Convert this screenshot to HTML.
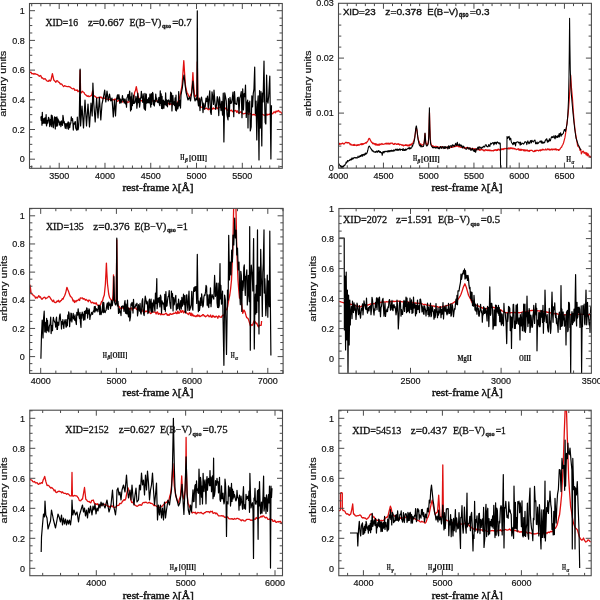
<!DOCTYPE html>
<html><head><meta charset="utf-8"><style>
html,body{margin:0;padding:0;background:#fff;}
svg{display:block;will-change:transform;}
text{fill:#111;stroke:#111;stroke-width:0.18px;}
.tl{font-family:"Liberation Sans",sans-serif;font-size:9px;}
.al{font-family:"Liberation Sans",sans-serif;font-size:8.9px;}
.xl{font-family:"Liberation Serif",serif;font-size:10.2px;stroke-width:0.4px;}
.an{font-family:"Liberation Serif",serif;font-size:10px;stroke-width:0.3px;}
.ans{font-family:"Liberation Sans",sans-serif;font-size:8.8px;stroke-width:0.35px;}
.sub{font-size:6.8px;font-weight:bold;}
.ll{font-family:"Liberation Serif",serif;font-size:7.6px;font-weight:bold;}
.lo{font-family:"Liberation Serif",serif;font-size:8.3px;font-weight:bold;}
.lg{font-family:"Liberation Serif",serif;font-size:5.5px;font-weight:bold;font-style:italic;}
.ls{font-size:5.5px;}
</style></head><body>
<svg width="600" height="600" viewBox="0 0 600 600">
<clipPath id="cp1"><rect x="29.5" y="3.5" width="252.8" height="164.8"/></clipPath>
<g clip-path="url(#cp1)" fill="none" stroke-linejoin="round">
<path d="M29.8 72.5 30.87 72.1 31.93 73.86 33 73.5 33.94 74.27 34.88 73.49 35.82 74.21 36.76 74.36 37.7 74.7 38.51 75.54 39.33 76.35 40.14 75.5 40.95 75.91 41.76 78.06 42.58 77.79 43.39 78.99 44.2 79 45.27 78.74 46.33 80.36 47.4 81.2 48.3 81.34 49.2 80.06 50.1 81.19 51 80 52.4 73.6 53.8 80 55 81.2 55.86 82.22 56.72 80.7 57.58 80.91 58.44 82.16 59.3 82.3 60.18 84.04 61.06 83.78 61.94 84.31 62.82 85.58 63.7 86.6 64.56 85.66 65.42 86.04 66.28 86.48 67.14 86.59 68 86.6 68.86 86.51 69.72 86.94 70.58 87.36 71.44 88.28 72.3 88.8 73.11 88.65 73.92 88.39 74.74 90.3 75.55 90.01 76.36 90.46 77.17 89.82 77.99 91.71 78.8 91 79.6 91 80.1 70.3 80.6 92 81.47 92.72 82.33 91.24 83.2 92 84 92.49 84.8 94.09 85.6 94.9 86.4 95.3 87.23 96.42 88.05 95.64 88.88 96.71 89.7 96.3 90.75 95.99 91.8 95 92.6 91 93.6 96 94.54 95.89 95.48 96.74 96.42 97.6 97.36 97.81 98.3 97.4 99.11 97.55 99.92 97.85 100.74 96.88 101.55 97.44 102.36 98.68 103.17 98.05 103.99 97.71 104.8 98.5 105.61 98.74 106.42 99.18 107.24 99.26 108.05 98.8 108.86 99.07 109.67 99.34 110.49 100.02 111.3 99.6 112.17 99.75 113.04 99.61 113.91 99.91 114.78 99.1 115.65 99.24 116.52 100.67 117.39 101.34 118.26 100.67 119.13 100.38 120 100.7 120.87 100.15 121.74 100.92 122.61 101.99 123.48 101.68 124.35 101.33 125.22 102.08 126.09 100.93 126.96 101.61 127.83 102.59 128.7 101.8 129.56 101.6 130.42 101 131.28 100.26 132.14 100.46 133 100 133.82 97.56 134.65 92.31 135.48 90.52 136.3 86.6 137.2 91.37 138.1 95.64 139 99 139.9 100.05 140.8 100.75 141.7 100.7 142.56 100.74 143.42 100.82 144.28 100.55 145.14 99.81 146 101.44 146.86 100.84 147.72 100.1 148.58 100.71 149.44 100.67 150.3 100.7 151.17 100.52 152.04 100.61 152.91 101.11 153.78 101.39 154.65 101.47 155.52 101.28 156.39 100.53 157.26 101.04 158.13 101.04 159 101.8 159.82 102.17 160.64 102.92 161.45 103 162.27 103.19 163.09 103.43 163.91 102.51 164.73 103.88 165.55 103.75 166.36 102.77 167.18 102.83 168 104 168.87 103.13 169.74 104.71 170.61 103.8 171.48 103.62 172.35 104.75 173.22 104.29 174.09 103.84 174.96 104.12 175.83 104.95 176.7 105 177.85 101.84 179 100 180.6 93 182 86 183 72 183.8 60.7 184.5 72 185.5 86 187 93 187.9 94.01 188.8 96.36 189.7 97.4 190.6 95.11 191.5 93 192.4 82 192.9 72.6 193.4 82 194.3 93 195 97 195.9 95.64 196.8 95 197.3 62 197.8 97 198.7 100.35 199.6 102.85 200.5 107.2 201.37 107.18 202.24 107.46 203.11 107.21 203.98 107.26 204.85 109.05 205.72 108.48 206.59 108.09 207.46 109.09 208.33 109.72 209.2 109.3 210.03 108.18 210.86 108.01 211.69 108.11 212.52 109.09 213.35 107.81 214.18 108.74 215.02 108.53 215.85 108.1 216.68 107.29 217.51 108.64 218.34 108.12 219.17 107.39 220 107.2 220.83 106.89 221.66 107.99 222.49 107.73 223.32 108.34 224.15 108.07 224.98 108.94 225.82 108.04 226.65 108.77 227.48 110.35 228.31 110.41 229.14 109.52 229.97 110.87 230.8 110.4 231.64 110.19 232.48 111.62 233.32 111.4 234.15 110.91 234.99 110.75 235.83 110.43 236.67 112.34 237.51 110.83 238.35 112.56 239.18 113.02 240.02 112.4 240.86 111.77 241.7 112.6 242.53 113.5 243.36 113.89 244.19 113.52 245.02 113.29 245.85 113.2 246.68 113.31 247.52 113.2 248.35 114.3 249.18 113.99 250.01 113.68 250.84 113.67 251.67 114.96 252.5 114.8 253.33 114.39 254.16 114.8 254.99 114.45 255.82 115.54 256.65 115.6 257.48 113.84 258.32 114.2 259.15 114.46 259.98 115.77 260.81 115.37 261.64 114.48 262.47 114.23 263.3 114.8 264.17 115.04 265.04 115.26 265.91 115.33 266.78 114.05 267.65 115.01 268.52 114.51 269.39 114 270.26 114.89 271.13 113.28 272 113.7 272.81 113.74 273.62 112.04 274.44 111.8 275.25 112.87 276.06 111.06 276.88 111.74 277.69 111.01 278.5 110.4 279.38 111.91 280.25 111.79 281.12 112.56 282 113.7" stroke="#e01010" stroke-width="1.3"/>
<path d="M40.9 116.45 41.25 120.5 41.6 116.43 41.96 125.27 42.32 112.33 42.68 123.4 43.05 121.53 43.42 122.95 43.8 118.61 44.18 123.35 44.56 117.99 44.94 122.36 45.33 117.96 45.73 123.57 46.12 114.7 46.52 125.99 46.92 123.87 47.32 120.28 47.72 123.22 48.12 120.65 48.52 117.34 48.92 118.19 49.32 120.66 49.72 126.56 50.12 124.02 50.52 119.27 50.92 124.98 51.32 115.1 51.72 126.64 52.12 115.7 52.52 118.02 52.92 121.88 53.32 127.69 53.72 122.46 54.12 121.96 54.52 116.78 54.92 123.82 55.32 128.86 55.72 117.25 56.12 124.1 56.52 126.18 56.92 116.87 57.32 126.01 57.72 118.87 58.12 119.22 58.52 122.19 58.92 120.85 59.32 125.22 59.72 123.67 60.12 121.9 60.52 123.61 60.92 126.55 61.32 120.93 61.72 123.93 62.12 124.82 62.52 125.33 62.92 115.44 63.32 117.66 63.72 122.99 64.12 121.35 64.52 123.29 64.92 126.58 65.32 128.4 65.72 123.63 66.12 124.56 66.52 123.86 66.92 128.72 67.32 123.33 67.72 123.85 68.12 121.94 68.52 129.22 68.92 122.34 69.32 123.7 69.72 127.61 70.12 124.74 70.52 124.04 70.92 121.9 71.32 116.9 71.72 120.39 72.12 120.16 72.52 118.61 72.92 122.84 73.32 130.05 73.72 123.37 74.12 124.36 74.52 123.89 74.92 121.97 75.32 121.64 75.72 128.17 76.12 128.49 76.52 130.2 76.92 130.19 77.32 117.1 77.72 129.14 78.12 129.68 78.52 127.44 78.92 121.7 79.32 115.8 80.1 69 80.6 126 82 106 83.5 128 85 100 86.5 126 88 104 89.5 127 91 103 92.2 116 92.9 83 93.8 104 95.2 122 96.6 98 98 118 99.4 97 100.8 120 102 104 103.5 97 104.7 90 105.8 102 107 91 108.3 101 109.5 94 110.8 101 112 98 113.3 117 114.5 100 115.5 116 116.5 99 117.3 96 117.5 94.84 117.95 99.48 118.4 98.58 118.85 94.7 119.3 97.47 119.75 103.16 120.2 99.09 120.65 99.11 121.1 102.84 121.55 100.88 122 99.78 122.45 95.64 122.9 99.32 123.35 101.23 123.8 98.87 124.25 103.06 124.7 102.29 125.15 98.97 125.6 103.98 126.05 102.44 126.5 107.15 126.95 97.75 127.4 97.11 127.85 94.62 128.3 94.56 128.75 100.73 129.2 94.91 129.65 91 130.1 98.45 130.55 110.99 131 96.88 131.45 109.58 131.9 92.89 132.35 105.77 132.8 101.95 133.25 103.45 133.7 95 134.15 103.42 134.6 102.89 135.05 102.75 135.5 100.37 135.95 96.39 136.4 98.83 136.85 108.1 137.3 103.95 137.75 93.06 138.2 98.98 138.65 102.7 139.1 98.48 139.55 107.07 140 103.55 140.45 97.93 140.9 97.98 141.35 91.3 141.8 97.7 142.25 97.1 142.7 102.29 143.15 93.86 143.6 99.12 144.05 108.1 144.5 109.15 144.95 93.28 145.4 110.15 145.85 102.91 146.3 94.14 146.75 103.09 147.2 99.49 147.65 101.65 148.1 102.84 148.55 97.73 149 102.17 149.45 102.81 149.9 94.06 150.35 103.93 150.8 107.08 151.25 93.49 151.7 104.32 152.15 98.32 152.6 92.36 153.05 93.95 153.5 104.8 153.95 100.67 154.4 105.88 154.85 99.99 155.3 101.8 155.75 93.99 156.2 99.35 156.65 98.02 157.1 101.86 157.55 102.13 158 102.5 158.45 100.73 158.9 97.25 159.35 104.07 159.8 105.64 160.25 90.88 160.7 103.4 161.15 93.82 161.6 108.45 162.05 96.37 162.5 108.64 162.95 105.45 163.4 100.09 163.85 108.28 164.3 103.57 164.75 101.15 165.2 104.42 165.65 92.95 166.1 105.59 166.55 99.77 167 100.81 167.45 106.81 167.9 100.83 168.35 99.94 168.8 100.18 169.25 102.2 169.7 104.41 170.15 103.23 170.6 92.16 171.05 101.66 171.5 93.12 171.95 111 172.4 102.95 172.85 95.23 173.3 102.01 173.75 104.73 174.2 101.9 174.65 105.65 175.1 97.94 175.55 110.26 176 95.19 176.45 111 176.9 105.33 177.35 102.78 177.8 108.84 178.25 106.36 178.7 91.56 179.15 105.95 179.6 103.97 180.05 100.37 180.5 108.05 181 95 182.3 88 183.3 79 184 75 184.8 82 186 92 188 100 189.5 97 190.5 101 191.8 92 192.9 81 194 96 195 101 196.2 98 196.9 100 197.3 10.8 197.7 100 198.5 106 199.3 98 200 110.58 200.75 99.7 201.5 97.14 202.25 101.82 203 112.57 203.75 103.2 204.5 109.13 205.25 106.36 206 98.14 206.75 101.63 207.5 96.12 208.25 108.41 209 98.51 209.75 90.87 210.5 111.91 211.25 114.48 212 91.85 212.75 97.04 213.5 104.42 214 90 215 103.04 215.75 109.4 216.5 104.97 217.25 96.65 218 99.7 218.75 115.56 219.5 96.95 220.25 103.62 221 110.55 221.75 101.39 222.5 115.03 223.25 93.15 223.9 142 224.75 92.81 225.5 96.62 226.25 101.12 227 115 228 120 228.5 98.7 229.25 116.55 230 97.29 230.75 103.34 231.5 103.02 232.25 98.56 233 92 233.75 116.66 234.5 91.54 235.25 103.44 236 104.15 236.75 104.41 237.5 97.68 238.25 97.2 239 113.57 239.75 97.87 240.5 96.18 241.25 91.51 241.98 117.75 242.71 88.95 243.44 109.93 244.15 93.6 244.86 96.74 245.5 85 246.26 117.52 246.96 102.77 247.66 100.2 248 128 248.36 102.59 249.06 112.12 249.76 101.09 250.3 131 251.16 126.88 251.86 95.84 252.56 106.79 253.26 93.71 253.96 89.19 254.7 67 255.36 113.54 256.06 100.98 256.8 140 257.46 107.32 258.16 95.76 259 160 259.56 90.5 260.26 128.07 260.96 91.62 261.8 146 262.36 93.11 263.06 101.93 264 61 264.46 94.35 265.16 122.4 265.86 124.06 266.6 75 267.26 100.3 267.96 103.14 268.66 96.55 269.36 83.55 269.8 76 270.9 159 271.46 105.36" stroke="#000" stroke-width="1.2"/>
</g>
<path d="M31.73 168.3v-2.8M31.73 3.5v2.8M40.89 168.3v-2.8M40.89 3.5v2.8M50.05 168.3v-2.8M50.05 3.5v2.8M59.2 168.3v-5.5M59.2 3.5v5.5M68.36 168.3v-2.8M68.36 3.5v2.8M77.51 168.3v-2.8M77.51 3.5v2.8M86.67 168.3v-2.8M86.67 3.5v2.8M95.82 168.3v-2.8M95.82 3.5v2.8M104.98 168.3v-5.5M104.98 3.5v5.5M114.13 168.3v-2.8M114.13 3.5v2.8M123.29 168.3v-2.8M123.29 3.5v2.8M132.44 168.3v-2.8M132.44 3.5v2.8M141.6 168.3v-2.8M141.6 3.5v2.8M150.75 168.3v-5.5M150.75 3.5v5.5M159.91 168.3v-2.8M159.91 3.5v2.8M169.06 168.3v-2.8M169.06 3.5v2.8M178.22 168.3v-2.8M178.22 3.5v2.8M187.37 168.3v-2.8M187.37 3.5v2.8M196.53 168.3v-5.5M196.53 3.5v5.5M205.68 168.3v-2.8M205.68 3.5v2.8M214.84 168.3v-2.8M214.84 3.5v2.8M223.99 168.3v-2.8M223.99 3.5v2.8M233.15 168.3v-2.8M233.15 3.5v2.8M242.3 168.3v-5.5M242.3 3.5v5.5M251.46 168.3v-2.8M251.46 3.5v2.8M260.61 168.3v-2.8M260.61 3.5v2.8M269.77 168.3v-2.8M269.77 3.5v2.8M278.92 168.3v-2.8M278.92 3.5v2.8M29.5 166.62h2.8M282.3 166.62h-2.8M29.5 159.2h5.5M282.3 159.2h-5.5M29.5 151.77h2.8M282.3 151.77h-2.8M29.5 144.35h2.8M282.3 144.35h-2.8M29.5 136.92h2.8M282.3 136.92h-2.8M29.5 129.5h5.5M282.3 129.5h-5.5M29.5 122.07h2.8M282.3 122.07h-2.8M29.5 114.65h2.8M282.3 114.65h-2.8M29.5 107.22h2.8M282.3 107.22h-2.8M29.5 99.8h5.5M282.3 99.8h-5.5M29.5 92.37h2.8M282.3 92.37h-2.8M29.5 84.95h2.8M282.3 84.95h-2.8M29.5 77.52h2.8M282.3 77.52h-2.8M29.5 70.1h5.5M282.3 70.1h-5.5M29.5 62.67h2.8M282.3 62.67h-2.8M29.5 55.25h2.8M282.3 55.25h-2.8M29.5 47.82h2.8M282.3 47.82h-2.8M29.5 40.4h5.5M282.3 40.4h-5.5M29.5 32.97h2.8M282.3 32.97h-2.8M29.5 25.55h2.8M282.3 25.55h-2.8M29.5 18.12h2.8M282.3 18.12h-2.8M29.5 10.7h5.5M282.3 10.7h-5.5" stroke="#4a4a4a" stroke-width="1" fill="none"/>
<rect x="29.5" y="3.5" width="252.8" height="164.8" stroke="#4a4a4a" stroke-width="1.1" fill="none"/>
<text x="59.2" y="178.9" class="tl" text-anchor="middle">3500</text>
<text x="104.98" y="178.9" class="tl" text-anchor="middle">4000</text>
<text x="150.75" y="178.9" class="tl" text-anchor="middle">4500</text>
<text x="196.53" y="178.9" class="tl" text-anchor="middle">5000</text>
<text x="242.3" y="178.9" class="tl" text-anchor="middle">5500</text>
<text x="24.7" y="162.4" class="tl" text-anchor="end">0</text>
<text x="24.7" y="132.7" class="tl" text-anchor="end">0.2</text>
<text x="24.7" y="103" class="tl" text-anchor="end">0.4</text>
<text x="24.7" y="73.3" class="tl" text-anchor="end">0.6</text>
<text x="24.7" y="43.6" class="tl" text-anchor="end">0.8</text>
<text x="24.7" y="13.9" class="tl" text-anchor="end">1</text>
<text x="122.5" y="191.2" class="xl" textLength="71" lengthAdjust="spacingAndGlyphs">rest-frame &#955;[&#197;]</text>
<text transform="translate(6.3 116.7) rotate(-90)" class="al" textLength="66" lengthAdjust="spacingAndGlyphs">arbitrary units</text>
<text x="45.6" y="26.2" class="an" textLength="32.4" lengthAdjust="spacingAndGlyphs">XID=16</text>
<text x="87.9" y="26.2" class="an" textLength="36.3" lengthAdjust="spacingAndGlyphs">z=0.667</text>
<text x="129.5" y="26.2" class="an" textLength="31.8" lengthAdjust="spacingAndGlyphs">E(B&#8722;V)</text>
<text x="162" y="28.4" class="sub an" textLength="9" lengthAdjust="spacingAndGlyphs">qso</text>
<text x="172.2" y="26.2" class="an" textLength="19.5" lengthAdjust="spacingAndGlyphs">=0.7</text>
<text x="180.2" y="160.4" class="ll" textLength="4.2" lengthAdjust="spacingAndGlyphs">H</text>
<text x="184.9" y="162.2" class="lg" textLength="2.8" lengthAdjust="spacingAndGlyphs">&#946;</text>
<text x="189" y="160.7" class="lo" textLength="18" lengthAdjust="spacingAndGlyphs">[OIII]</text>
<clipPath id="cp2"><rect x="338.5" y="3.3" width="252.9" height="164.8"/></clipPath>
<g clip-path="url(#cp2)" fill="none" stroke-linejoin="round">
<path d="M338.6 144.61 338.95 144.57 339.3 143.29 339.65 143.3 340 144.31 340.35 144.14 340.7 144.02 341.05 143.48 341.4 143.86 341.75 143.83 342.1 143.76 342.45 143.14 342.8 143.48 343.15 143.4 343.5 143.83 343.85 144.17 344.2 144.04 344.55 143.37 344.9 143.13 345.25 142.78 345.6 142.36 345.95 142.24 346.3 142.76 346.65 142.45 347 142.44 347.35 143.05 347.7 142.61 348.05 142.86 348.4 142.6 348.75 142.5 349.1 143.12 349.45 143.06 349.8 143.78 350.15 144.66 350.5 144.41 350.85 143.91 351.2 145.02 351.55 144.94 351.9 144.89 352.25 145.18 352.6 145.03 352.95 145.11 353.3 144.55 353.65 145.47 354 145.49 354.35 144.42 354.7 145.29 355.05 145.29 355.4 144.98 355.75 145.12 356.1 145.08 356.45 145.63 356.8 144.99 357.15 145.39 357.5 144.67 357.85 145.36 358.2 145.32 358.55 144.65 358.9 144.75 359.25 145.18 359.6 144.85 359.95 144.45 360.3 144.02 360.65 144.1 361 144.56 361.35 143.74 361.7 144.7 362.05 143.73 362.4 144.54 362.75 143.61 363.1 144.43 363.45 143.98 363.8 143.59 364.15 143.51 364.5 143.6 364.85 143.4 365.2 142.89 365.55 142.6 365.9 142.85 366.25 143.22 366.6 142.53 366.95 141.88 367.3 141.8 367.65 141.26 368 140.7 368.35 139.66 368.7 139.15 369.05 138.33 369.3 138.4 369.75 138.73 370.1 139.42 370.45 140.48 370.8 140.87 371.15 141.65 371.5 142.3 371.85 142.2 372.2 142.48 372.55 143.69 372.9 143.27 373.25 143.87 373.6 143.08 373.95 143.69 374.3 143.55 374.65 144.37 375 143.66 375.35 144.98 375.7 143.78 376.05 144.85 376.4 143.95 376.75 144.36 377.1 145.22 377.45 144.38 377.8 144.5 378.15 145.22 378.5 144.72 378.85 144.17 379.2 145.43 379.55 144.18 379.9 143.94 380.25 144.3 380.6 144.6 380.95 144.71 381.3 143.75 381.65 143.99 382 143.48 382.35 143.99 382.7 144.35 383.05 144.24 383.4 144.38 383.75 144.1 384.1 144.19 384.45 143.97 384.8 143.65 385.15 143.31 385.5 143.92 385.85 143.43 386.2 143.14 386.55 143.62 386.9 144.22 387.25 143.17 387.6 143.81 387.95 143.54 388.3 143.71 388.65 143.2 389 144.34 389.35 143.36 389.7 143.84 390.05 143.58 390.4 143.03 390.75 143.8 391.1 143.22 391.45 143.11 391.8 143.09 392.15 143.28 392.5 143.2 392.85 143.96 393.2 143.8 393.55 144.47 393.9 144.41 394.25 144.51 394.6 143.45 394.95 143.75 395.3 143.49 395.65 143.98 396 144.03 396.35 144.36 396.7 144.32 397.05 143.78 397.4 144.1 397.75 144.33 398.1 143.68 398.45 143.81 398.8 144.42 399.15 144.09 399.5 145.03 399.85 144.44 400.2 144.32 400.55 144.52 400.9 144.67 401.25 144.69 401.6 145.15 401.95 145.09 402.3 144.9 402.65 145.39 403 144.81 403.35 145.8 403.7 145.9 404.05 145.59 404.4 145.2 404.75 145.32 405.1 145.44 405.45 144.71 405.8 145.23 406.15 145.39 406.5 144.91 406.85 144.79 407.2 145.77 407.55 145.16 407.9 145.36 408.25 145.9 408.6 145.44 408.95 144.95 409.3 145.88 409.65 144.96 410 144.38 410.35 145.21 410.7 144.26 411.05 144.39 411.4 144.95 411.75 144.48 412.1 143.28 412.45 143.53 412.8 143.02 413.15 142.55 413.5 141.42 413.85 140.9 414.2 139.44 414.55 137.92 414.9 135.92 415.25 133.72 415.6 130.78 415.95 128.96 416.3 128.02 416.65 128.9 417 130.95 417.35 133.58 417.7 136.16 418.05 138.07 418.4 139.58 418.75 140.85 419.1 141.39 419.45 143.22 419.8 143.52 420.15 144.42 420.5 144.41 420.85 143.76 421.2 144.86 421.55 145.19 421.9 145.22 422.25 144.96 422.6 144.89 422.95 144.82 423.3 144.71 423.65 143.96 424 143.01 424.35 140.72 424.7 136.53 425 133.49 425.4 137.99 425.75 141.73 426.1 143.32 426.45 144.13 426.8 144.58 427.15 144.53 427.5 144.38 427.85 143.92 428.2 142.85 428.55 140.2 428.9 134.35 429.25 120.36 429.5 112.54 429.95 129.8 430.3 138.3 430.65 142.1 431 143.69 431.35 144.63 431.7 145.53 432.05 146.42 432.4 146.21 432.75 145.67 433.1 146.05 433.45 146.07 433.8 146.78 434.15 146.87 434.5 146.6 434.85 146.78 435.2 146.25 435.55 146.9 435.9 147.52 436.25 147.28 436.6 146.4 436.95 147.02 437.3 147.33 437.65 146.72 438 147.64 438.35 147.06 438.7 147.43 439.05 147.03 439.4 147.89 439.75 147.61 440.1 147.34 440.45 146.75 440.8 147.17 441.15 146.6 441.5 147.39 441.85 147.8 442.2 146.82 442.55 147.29 442.9 147.26 443.25 147.15 443.6 147.58 443.95 147.9 444.3 147.58 444.65 147.26 445 147.95 445.35 147.07 445.7 147.65 446.05 147.53 446.4 147.68 446.75 147.81 447.1 146.93 447.45 147.49 447.8 147.19 448.15 147.56 448.5 147.99 448.85 147.49 449.2 146.56 449.55 147.13 449.9 147.42 450.25 147.6 450.6 147.22 450.95 147.39 451.3 146.21 451.65 147.45 452 147.09 452.35 146.86 452.7 147.21 453.05 147.13 453.4 145.97 453.75 146.91 454.1 146.78 454.45 145.93 454.8 146.63 455.15 146.35 455.5 145.74 455.85 146.53 456.2 145.54 456.55 146.14 456.9 145.83 457.25 145.52 457.6 146.05 457.95 146.02 458.3 145.77 458.65 146.94 459 145.81 459.35 145.82 459.7 146.61 460.05 147.21 460.4 147.07 460.75 147.32 461.1 147.06 461.45 147.43 461.8 147.07 462.15 147.06 462.5 147.44 462.85 146.82 463.2 146.95 463.55 147.94 463.9 147.18 464.25 148.03 464.6 148.13 464.95 147.65 465.3 148.07 465.65 148.28 466 148.44 466.35 147.47 466.7 147.55 467.05 147.91 467.4 148.07 467.75 147.89 468.1 147.54 468.45 148.35 468.8 148.97 469.15 148.18 469.5 148.47 469.85 148.3 470.2 148.44 470.55 149.08 470.9 148.34 471.25 148.87 471.6 148.69 471.95 148.81 472.3 149.39 472.65 148.26 473 149.36 473.35 148.67 473.7 149.19 474.05 149.44 474.4 149.29 474.75 148.96 475.1 149.63 475.45 148.63 475.8 149.43 476.15 149.13 476.5 149.37 476.85 149.86 477.2 149.82 477.55 149.63 477.9 149.22 478.25 149.16 478.6 149.51 478.95 149.24 479.3 149.35 479.65 150.34 480 149.2 480.35 150.23 480.7 149.66 481.05 149.68 481.4 149.66 481.75 149.36 482.1 149.93 482.45 149.57 482.8 150 483.15 149.83 483.5 150.71 483.85 150.78 484.2 150.1 484.55 150.38 484.9 150.79 485.25 149.94 485.6 149.63 485.95 149.82 486.3 149.75 486.65 150.44 487 150.01 487.35 149.99 487.7 150.6 488.05 149.81 488.4 150.62 488.75 150.37 489.1 150.05 489.45 150.64 489.8 149.97 490.15 150.72 490.5 150.78 490.85 150.19 491.2 150.45 491.55 150.82 491.9 150.53 492.25 150.54 492.6 150.71 492.95 150.8 493.3 150.54 493.65 150.86 494 149.9 494.35 150.36 494.7 150.4 495.05 149.94 495.4 149.93 495.75 149.58 496.1 150.64 496.45 149.75 496.8 149.88 497.15 150.42 497.5 149.39 497.85 150.43 498.2 149.22 498.55 149.04 498.9 149.45 499.25 149.42 499.6 150.16 499.95 150.07 500.3 149.86 500.65 149.36 501 149.47 501.35 149 501.7 149.79 502.05 149.13 502.4 148.94 502.75 149.39 503.1 148.67 503.45 148.86 503.8 149.67 504.15 148.46 504.5 148.49 504.85 148.53 505.2 148.55 505.55 148.75 505.9 148.47 506.25 148.55 506.6 148.38 506.95 148.32 507.3 148.8 507.65 148.37 508 148.38 508.35 148.89 508.7 147.86 509.05 147.93 509.4 148.88 509.75 148.25 510.1 148.69 510.45 147.74 510.8 148.25 511.15 148.66 511.5 147.9 511.85 148.48 512.2 148.32 512.55 148.09 512.9 149 513.25 148.22 513.6 148.4 513.95 148.67 514.3 148.32 514.65 149.11 515 148.85 515.35 148.9 515.7 148.9 516.05 149.59 516.4 149.66 516.75 149.52 517.1 149.05 517.45 149.06 517.8 149.28 518.15 148.68 518.5 148.84 518.85 150.15 519.2 149 519.55 150.2 519.9 149.91 520.25 150.3 520.6 149.2 520.95 149.58 521.3 150.34 521.65 149.3 522 149.51 522.35 149.92 522.7 149.74 523.05 149.73 523.4 150.49 523.75 149.71 524.1 150.97 524.45 150.55 524.8 149.74 525.15 150.96 525.5 150.07 525.85 150.43 526.2 150.57 526.55 150.01 526.9 150.55 527.25 149.96 527.6 150.18 527.95 151.22 528.3 151.11 528.65 150.72 529 150.97 529.35 151.27 529.7 150.27 530.05 150.8 530.4 150.32 530.75 150.33 531.1 150.35 531.45 150.52 531.8 150.33 532.15 150.58 532.5 150.84 532.85 151.21 533.2 151.57 533.55 151.65 533.9 151.34 534.25 151 534.6 151.53 534.95 150.42 535.3 150.29 535.65 151.24 536 150.93 536.35 150.29 536.7 150.48 537.05 150.32 537.4 150.46 537.75 150.4 538.1 150.31 538.45 150.82 538.8 150.8 539.15 150.4 539.5 150.22 539.85 149.91 540.2 150.54 540.55 150.8 540.9 149.69 541.25 150.3 541.6 150.25 541.95 150.14 542.3 149.22 542.65 149.9 543 149.36 543.35 149.3 543.7 149.79 544.05 149.83 544.4 149.77 544.75 149.92 545.1 149.86 545.45 149.53 545.8 148.92 546.15 149.93 546.5 149.99 546.85 150 547.2 149.65 547.55 148.86 547.9 149.07 548.25 148.94 548.6 149.67 548.95 149.53 549.3 149.02 549.65 150.09 550 150.11 550.35 149.99 550.7 149.37 551.05 149.12 551.4 148.99 551.75 149.85 552.1 149.66 552.45 149.06 552.8 149.93 553.15 149.45 553.5 149.22 553.85 149.22 554.2 149.63 554.55 149.25 554.9 149.53 555.25 148.78 555.6 149.65 555.95 149.12 556.3 150.07 556.65 149.16 557 149.39 557.35 149.75 557.7 149.61 558.05 149.86 558.4 150.48 558.75 149.53 559.1 150.27 559.45 149.77 559.8 149.51 560.15 148.65 560.5 148.27 560.85 147.73 561.2 147.51 561.55 146.82 561.7 147 562.3 145.4 562.9 144.49 563.5 143 564.2 140.46 564.9 137.7 565.45 134.33 566 131 566.55 126.52 567.1 122.5 567.7 117.48 568.3 112 568.8 105.6 569.3 98.7 570 87 570.7 75.2 571.4 87 571.95 92.86 572.5 98.7 573.3 111 574.2 122.5 574.85 127.75 575.5 133 576.15 136.79 576.8 141 577.65 145.83 578.5 147 579.3 147.31 580.1 150.5 580.73 149.26 581.37 153.83 582 152.5 582.7 151.34 583.4 151.18 584.1 153.41 584.8 152.28 585.5 153 586.11 154.89 586.72 152.59 587.33 155.84 587.94 153.61 588.56 155.07 589.17 156.73 589.78 156.07 590.39 157.36 591 156" stroke="#e01010" stroke-width="1.2"/>
<path d="M338.8 163.46 339.15 164.55 339.5 164.68 339.85 165.62 340.2 166.14 340.55 165.5 340.9 165.87 341.25 167.57 341.6 166.3 341.95 166.13 342.3 167.54 342.65 166.37 343 166.99 343.35 166.15 343.7 166.36 344.05 165.21 344.4 165.65 344.75 165.59 345.1 164.37 345.45 164.29 345.8 163.62 346.15 161.95 346.5 162.99 346.85 162.31 347.2 161.38 347.55 160.49 347.9 161.81 348.25 160.67 348.6 160.81 348.95 160.78 349.3 160.28 349.65 160.55 350 159.36 350.35 160.03 350.7 159.18 351.05 160.02 351.4 159.77 351.75 158.06 352.1 158 352.45 158.02 352.8 159.37 353.15 158.17 353.5 158.41 353.85 157.62 354.2 157.91 354.55 157.56 354.9 157.39 355.25 157.75 355.6 157.64 355.95 158.17 356.3 157.62 356.65 158.01 357 157.76 357.35 157.92 357.7 157.17 358.05 156.05 358.4 157.33 358.75 157.43 359.1 157.2 359.45 156.42 359.8 156.6 360.15 155.49 360.5 156.62 360.85 155.99 361.2 155.3 361.55 154.74 361.9 156.21 362.25 156.36 362.6 154.44 362.95 155.74 363.3 154.84 363.65 154.19 364 154.35 364.35 155.15 364.7 155.2 365.05 153.38 365.4 154.34 365.75 153 366.1 154.13 366.45 153.1 366.8 153.35 367.15 152.73 367.5 151.26 367.85 150.23 368.2 148.32 368.55 146.99 369 146.36 369.25 146.02 369.6 146.44 369.95 147 370.3 147.85 370.65 148.21 371 148.64 371.35 149.54 371.7 149.29 372.05 150.89 372.4 151.12 372.75 150.42 373.1 150.9 373.45 151.32 373.8 151.87 374.15 151.93 374.5 151.84 374.85 151.94 375.2 152.55 375.55 151.66 375.9 151.47 376.25 152.02 376.6 151.02 376.95 151.11 377.3 152.42 377.65 151.47 378 151.49 378.35 150.55 378.7 151.49 379.05 151.96 379.4 150.97 379.75 152.3 380.1 152.46 380.45 151.45 380.8 152.72 381.15 152.53 381.5 153.09 381.85 152.57 382.2 155.33 382.55 153.89 382.9 151.75 383.25 151.58 383.6 152.56 383.95 152.88 384.3 151.38 384.65 151.75 385 151.98 385.35 151.39 385.7 151.43 386.05 151.29 386.4 151.36 386.75 151.76 387.1 151.13 387.45 151.24 387.8 151.98 388.15 150.45 388.5 151.49 388.85 151.77 389.2 150.88 389.55 150.66 389.9 151.78 390.25 150.6 390.6 150.45 390.95 150.9 391.3 151.38 391.65 150.14 392 150.54 392.35 150.47 392.7 151.38 393.05 150.5 393.4 151.24 393.75 149.78 394.1 150.03 394.45 150.56 394.8 150.94 395.15 149.98 395.5 149.44 395.85 149.14 396.2 149.9 396.55 149.19 396.9 150.39 397.25 150.43 397.6 149.09 397.95 149.25 398.3 150.27 398.65 149.91 399 150.23 399.35 149.31 399.7 148.88 400.05 149.21 400.4 150.21 400.75 149.17 401.1 149.32 401.45 149.46 401.8 149.47 402.15 149.44 402.5 150.46 402.85 148.93 403.2 148.62 403.55 150.5 403.9 150.36 404.25 150.57 404.6 149.45 404.95 150.47 405.3 150.41 405.65 148.93 406 149.9 406.35 150.01 406.7 149.58 407.05 149.2 407.4 148.65 407.75 148.66 408.1 148.33 408.45 147.91 408.8 148.83 409.15 148.1 409.5 149 409.85 147.31 410.2 148.85 410.55 148.24 410.9 148.47 411.25 148.15 411.6 147.85 411.95 146.85 412.3 145.32 412.65 146.27 413 144.49 413.35 143.94 413.7 143.63 414.05 141.97 414.4 140.12 414.75 138.13 415.1 135.01 415.45 131.44 415.8 128.07 416.15 126.34 416.3 125.89 416.5 126.26 416.85 128.75 417.2 131.83 417.55 135.05 417.9 138.04 418.25 140.39 418.6 141.66 418.95 143.69 419.3 144.9 419.65 145.39 420 145.97 420.35 144.78 420.7 146.35 421.05 147.07 421.4 145.64 421.75 146.21 422.1 146.27 422.45 146.8 422.8 146.62 423.15 146.46 423.5 146.24 423.85 144.96 424.2 143.26 424.55 139.38 425 133.11 425.25 135.73 425.6 141.89 425.95 144.54 426.3 145.23 426.65 145.93 427 145.91 427.35 145.7 427.7 145.18 428.05 144.22 428.4 141.77 428.75 135.89 429.1 121.11 429.4 107.8 429.8 126.61 430.15 138.29 430.5 142.84 430.85 144.63 431.2 145.47 431.55 146.11 431.9 146.41 432.25 147.1 432.6 147.63 432.95 146.97 433.3 147.92 433.65 147.66 434 147.34 434.35 147.28 434.7 147.58 435.05 148.04 435.4 147.51 435.75 148.09 436.1 147.65 436.45 147.25 436.8 147.85 437.15 148.19 437.5 146.96 437.85 147.69 438.2 147.71 438.55 148.63 438.9 148.76 439.25 147.65 439.6 148.71 439.95 148.51 440.3 146.52 440.8 146.8 441.3 147.65 441.8 148.54 442.3 146.76 442.8 146.63 443.3 146.98 443.8 148.62 444.3 146.63 444.8 148.48 445.3 148.19 445.8 146.47 446.3 147.71 446.8 147.39 447.3 147.23 447.8 149.06 448.3 146.13 448.8 145.82 449.3 148.55 449.8 146.62 450.3 145.75 450.8 145.95 451.3 145.85 451.8 147.52 452.3 144.92 452.8 144.73 453.3 145.69 453.8 145.36 454.3 146.44 454.8 145.86 455.3 144.1 455.8 143.4 456.3 145.21 456.8 145.48 457.3 142.2 457.8 144.73 458.3 145.43 458.8 145.01 459.3 143.91 459.8 146.03 460.3 146.09 460.8 144.66 461.3 146.36 461.8 145.29 462.3 147.95 462.8 147.98 463.3 146.08 463.8 146.45 464.3 147.43 464.8 148.22 465.3 148.8 465.8 149.02 466.3 149.26 466.8 148.78 467.3 147.42 467.8 147.18 468.3 148.79 468.8 148.72 469.3 149.31 469.8 147.63 470.3 148.08 470.8 150.51 471.3 149.58 471.8 149.99 472.3 148.17 472.8 149.24 473.3 150.97 473.8 150.24 474.3 151.43 474.8 148.99 475.3 152.26 475.8 151.96 476.3 148.74 476.8 149.7 477.3 148.83 477.8 147.26 478.3 147.06 478.8 149.75 479.3 146.84 479.8 146.94 480.3 147.24 480.8 148.31 481.3 148.62 481.8 147.27 482.3 147.19 482.8 147.98 483.3 146.2 483.8 146.36 484.3 146.98 484.8 146.9 485.3 144.84 485.8 144.92 486.3 144.86 486.8 146.58 487.3 146.33 487.8 147.07 488.3 146.27 488.8 144.47 489.3 145.96 489.8 146.51 490.3 144.32 490.8 143.09 491.3 144.1 491.8 143.66 492.3 143.16 492.8 142.61 493.3 142.74 493.8 144.98 494.3 142.24 494.8 143.91 495.3 142.48 495.8 142.3 496.3 144.18 496.8 142.38 497.3 141.88 497.8 142.62 498.3 143.25 498.8 142.58 499.3 143.98 499.8 142.85 500.3 143.58 500.6 171 501.11 169.31 501.62 169.85 502.12 170.21 502.63 172.6 503.14 170.99 503.65 171.88 504.16 169.4 504.67 171.04 505.18 172.37 505.68 171.09 506.19 172.78 506.7 171 507 136.6 507.53 138.49 508.07 136.82 508.6 137.7 509.14 136.35 509.68 140.02 510.22 138.16 510.76 138.34 511.3 141.87 511.84 142.97 512.38 143.6 512.92 144.71 513.46 142.36 514 144.2 514.51 142.46 515.02 142.55 515.54 145.92 516.05 142.39 516.56 142.51 517.07 141.89 517.58 141.94 518.09 141.84 518.61 143.03 519.12 142.21 519.63 142.73 520.14 145.14 520.65 142.03 521.16 144.55 521.68 144.18 522.19 143.44 522.7 143.1 523.21 143.35 523.73 144.08 524.24 143.29 524.76 141.81 525.27 142.16 525.79 141.76 526.3 142.34 526.81 144.63 527.33 142.34 527.84 140.85 528.36 142.43 528.87 143.72 529.39 142.2 529.9 143.18 530.41 140.68 530.93 140.51 531.44 142.86 531.96 140.35 532.47 141.31 532.99 141.59 533.5 142 534.01 140.77 534.53 140.15 535.04 140.03 535.56 143.81 536.07 142.75 536.59 143.81 537.1 141.97 537.61 143.82 538.13 143.45 538.64 142.47 539.16 142.1 539.67 142.03 540.19 140.9 540.7 141.5 541.21 142.89 541.73 140.78 542.24 143.4 542.76 142.04 543.27 142.42 543.79 143.29 544.3 142 544.81 142.33 545.32 140.05 545.84 140.23 546.35 138.99 546.86 138.84 547.37 142.29 547.88 140.6 548.39 141.85 548.91 140.85 549.42 138.73 549.93 141.09 550.44 140.65 550.95 138.54 551.46 136.79 551.98 137.48 552.49 136.62 553 137.7 553.51 136.97 554.02 135.64 554.54 137.97 555.05 138.84 555.56 135.57 556.07 137.66 556.58 136.68 557.09 136.08 557.61 137.58 558.12 135.27 558.63 136.85 559.14 133.51 559.65 137.04 560.16 133.71 560.68 132.8 561.19 136.12 561.7 134.4 562.24 134.61 562.78 133.75 563.31 133.44 563.85 131.21 564.39 129.48 564.92 129.62 565.46 131.49 566 129 567 124 567.8 115 568.5 100 569 75 569.3 50 569.6 18.3 569.9 45 570.3 70 571 90 572 102 573.2 115 574.7 129 576 138 578 144.2 580.1 148.5 581 150" stroke="#000" stroke-width="1.05"/>
</g>
<path d="M347.25 168.1v-2.8M347.25 3.3v2.8M356.3 168.1v-2.8M356.3 3.3v2.8M365.35 168.1v-2.8M365.35 3.3v2.8M374.4 168.1v-2.8M374.4 3.3v2.8M383.45 168.1v-5.5M383.45 3.3v5.5M392.5 168.1v-2.8M392.5 3.3v2.8M401.55 168.1v-2.8M401.55 3.3v2.8M410.6 168.1v-2.8M410.6 3.3v2.8M419.65 168.1v-2.8M419.65 3.3v2.8M428.7 168.1v-5.5M428.7 3.3v5.5M437.75 168.1v-2.8M437.75 3.3v2.8M446.8 168.1v-2.8M446.8 3.3v2.8M455.85 168.1v-2.8M455.85 3.3v2.8M464.9 168.1v-2.8M464.9 3.3v2.8M473.95 168.1v-5.5M473.95 3.3v5.5M483 168.1v-2.8M483 3.3v2.8M492.05 168.1v-2.8M492.05 3.3v2.8M501.1 168.1v-2.8M501.1 3.3v2.8M510.15 168.1v-2.8M510.15 3.3v2.8M519.2 168.1v-5.5M519.2 3.3v5.5M528.25 168.1v-2.8M528.25 3.3v2.8M537.3 168.1v-2.8M537.3 3.3v2.8M546.35 168.1v-2.8M546.35 3.3v2.8M555.4 168.1v-2.8M555.4 3.3v2.8M564.45 168.1v-5.5M564.45 3.3v5.5M573.5 168.1v-2.8M573.5 3.3v2.8M582.55 168.1v-2.8M582.55 3.3v2.8M338.5 168.1h5.5M591.4 168.1h-5.5M338.5 157.1h2.8M591.4 157.1h-2.8M338.5 146.1h2.8M591.4 146.1h-2.8M338.5 135.1h2.8M591.4 135.1h-2.8M338.5 124.1h2.8M591.4 124.1h-2.8M338.5 113.1h5.5M591.4 113.1h-5.5M338.5 102.1h2.8M591.4 102.1h-2.8M338.5 91.1h2.8M591.4 91.1h-2.8M338.5 80.1h2.8M591.4 80.1h-2.8M338.5 69.1h2.8M591.4 69.1h-2.8M338.5 58.1h5.5M591.4 58.1h-5.5M338.5 47.1h2.8M591.4 47.1h-2.8M338.5 36.1h2.8M591.4 36.1h-2.8M338.5 25.1h2.8M591.4 25.1h-2.8M338.5 14.1h2.8M591.4 14.1h-2.8" stroke="#4a4a4a" stroke-width="1" fill="none"/>
<rect x="338.5" y="3.3" width="252.9" height="164.8" stroke="#4a4a4a" stroke-width="1.1" fill="none"/>
<text x="338.2" y="178.7" class="tl" text-anchor="middle">4000</text>
<text x="383.45" y="178.7" class="tl" text-anchor="middle">4500</text>
<text x="428.7" y="178.7" class="tl" text-anchor="middle">5000</text>
<text x="473.95" y="178.7" class="tl" text-anchor="middle">5500</text>
<text x="519.2" y="178.7" class="tl" text-anchor="middle">6000</text>
<text x="564.45" y="178.7" class="tl" text-anchor="middle">6500</text>
<text x="333.7" y="171.3" class="tl" text-anchor="end">0</text>
<text x="333.7" y="116.3" class="tl" text-anchor="end">0.01</text>
<text x="333.7" y="61.3" class="tl" text-anchor="end">0.02</text>
<text x="333.7" y="6.3" class="tl" text-anchor="end">0.03</text>
<text x="431.5" y="191" class="xl" textLength="71" lengthAdjust="spacingAndGlyphs">rest-frame &#955;[&#197;]</text>
<text transform="translate(311 116.5) rotate(-90)" class="al" textLength="66" lengthAdjust="spacingAndGlyphs">arbitrary units</text>
<text x="342.9" y="14.5" class="ans" textLength="32.7" lengthAdjust="spacingAndGlyphs">XID=23</text>
<text x="385.3" y="14.5" class="ans" textLength="36.7" lengthAdjust="spacingAndGlyphs">z=0.378</text>
<text x="427.3" y="14.5" class="ans" textLength="30.9" lengthAdjust="spacingAndGlyphs">E(B&#8722;V)</text>
<text x="458.9" y="16.7" class="sub ans" textLength="9.6" lengthAdjust="spacingAndGlyphs">qso</text>
<text x="470" y="14.5" class="ans" textLength="19.6" lengthAdjust="spacingAndGlyphs">=0.3</text>
<text x="412.9" y="161.3" class="ll" textLength="4.2" lengthAdjust="spacingAndGlyphs">H</text>
<text x="417.6" y="163.1" class="lg" textLength="2.8" lengthAdjust="spacingAndGlyphs">&#946;</text>
<text x="421" y="161.6" class="lo" textLength="18.7" lengthAdjust="spacingAndGlyphs">[OIII]</text>
<text x="566.2" y="161.9" class="ll" textLength="4.8" lengthAdjust="spacingAndGlyphs">H</text>
<text x="571.5" y="163.7" class="lg" textLength="2.8" lengthAdjust="spacingAndGlyphs">&#945;</text>
<clipPath id="cp3"><rect x="29.6" y="208.4" width="253.5" height="165"/></clipPath>
<g clip-path="url(#cp3)" fill="none" stroke-linejoin="round">
<path d="M29.8 293 30.1 285.2 31.2 293.8 31.92 293.85 32.63 294.23 33.35 295.73 34.07 295.84 34.78 296.34 35.5 298.2 36.33 297.29 37.15 297.99 37.97 297.03 38.8 295.6 39.6 297.21 40.4 296.73 41.2 298.47 42 299.3 42.72 298.4 43.44 297.8 44.17 297.31 44.89 297.27 45.61 298.8 46.33 298.22 47.06 297.84 47.78 297.5 48.5 296.4 49.22 296.28 49.94 297.26 50.67 298.76 51.39 299.71 52.11 300.71 52.83 301.45 53.56 300.07 54.28 302.1 55 302.5 55.72 302.7 56.44 302.03 57.17 300.93 57.89 301.45 58.61 300.21 59.33 302.16 60.06 301.74 60.78 300.67 61.5 300.3 62.25 298.71 63 299.21 63.75 297.26 64.5 296 65.3 294.09 66.1 291.1 66.9 287.3 67.73 289.5 68.55 291.43 69.38 294.08 70.2 296 70.92 296.9 71.63 297.29 72.35 298.74 73.07 301.15 73.78 300.23 74.5 302.5 75.22 300.84 75.94 301.87 76.67 300.5 77.39 300.68 78.11 300.04 78.83 299.22 79.56 300.45 80.28 297.89 81 298.2 81.72 298.21 82.44 297.89 83.17 299.24 83.89 298.55 84.61 298.99 85.33 300.24 86.06 299.37 86.78 300.22 87.5 300.3 88.22 301.72 88.94 300 89.67 300.26 90.39 301.06 91.11 302.82 91.83 302.8 92.56 302.18 93.28 302.79 94 303.6 94.72 302.88 95.44 303.74 96.17 302.78 96.89 304.6 97.61 305.24 98.33 305.52 99.06 305.07 99.78 305.77 100.5 304.7 101.5 301.6 102.5 301 103.4 297.45 104.3 295 105.4 284 106 272 106.4 263.1 106.8 272 107.5 284 108.7 294 109.6 297.71 110.5 299 111.45 300.47 112.4 300.5 113 295 113.5 274.8 114 295 114.5 300 115.35 300.77 116.2 302 116.8 240 117.4 303 118.27 305.79 119.13 306.58 120 307.9 120.72 308.85 121.44 307.61 122.17 307.46 122.89 308.24 123.61 307.57 124.33 308.33 125.06 309.96 125.78 308.44 126.5 309 127.22 307.72 127.94 307.82 128.66 308.14 129.38 309.74 130.1 308.64 130.82 308.45 131.54 307.95 132.26 310.25 132.98 308.8 133.7 308.24 134.42 307.85 135.14 307.84 135.86 308.14 136.58 309.46 137.3 309 138.03 308.31 138.75 308.25 139.48 309.64 140.21 309.23 140.93 311.39 141.66 309.34 142.39 310.62 143.11 311.47 143.84 310.74 144.57 312.47 145.29 311.36 146.02 310.97 146.75 311.63 147.47 310.88 148.2 312.3 148.92 312.16 149.64 311.78 150.36 313.51 151.08 313.43 151.8 312.63 152.52 311.48 153.24 312.13 153.96 312.16 154.68 312.14 155.4 312.27 156.12 313.99 156.84 312.17 157.56 312 158.28 314.35 159 313.3 159.75 313.56 160.5 314.76 161.25 313.32 162 314.71 162.75 314.16 163.5 314.61 164.25 314.58 165 314.02 165.75 313.07 166.5 313.47 167.25 315.28 168 314.4 168.71 315.28 169.41 315.18 170.12 313.5 170.82 314.17 171.53 314.38 172.23 313.81 172.94 314.1 173.64 313.19 174.34 313.36 175.05 313.28 175.75 312.04 176.46 313.58 177.16 313.51 177.87 311.05 178.57 313.22 179.28 313.04 179.98 312.12 180.69 310.34 181.39 312.4 182.1 311.2 182.8 310.48 183.5 312.92 184.2 312.39 184.9 311.07 185.6 311.6 186.3 313.07 187 313.15 187.7 313.86 188.4 314.59 189.1 313 189.8 312.69 190.5 315.33 191.2 313.22 191.9 315.72 192.6 314 193.3 316.05 194 315.5 194.72 316.26 195.44 316.53 196.17 315.7 196.89 316.57 197.61 314.84 198.33 316.08 199.06 315.22 199.78 316.7 200.5 316.41 201.22 315.65 201.94 315.81 202.67 314.54 203.39 314.58 204.11 316.06 204.83 315.8 205.56 316.8 206.28 316.16 207 315.9 207.72 315.03 208.44 315.69 209.17 316.81 209.89 316.25 210.61 314.99 211.33 317.21 212.06 317.26 212.78 315.4 213.5 316.66 214.22 316.31 214.94 317.44 215.67 316.28 216.39 316.15 217.11 316.88 217.83 318.2 218.56 316 219.28 316.13 220 317.2 220.72 317.05 221.43 317.27 222.15 315.83 222.87 315.16 223.58 315.8 224.3 314.4 225.12 313.22 225.95 309.47 226.78 309.69 227.6 306.8 228.33 302.08 229.07 298.42 229.8 295 230.65 288.37 231.5 280 232.8 250 233.8 200 234.8 199.8 235.8 200 236.8 250 238 280 238.75 289.88 239.5 298.2 240.5 296 241.7 304.7 242.8 313.3 244 310 245 311.89 246 315.5 246.75 317.72 247.5 318 248.4 319.16 249.3 322 250.5 326 251.5 324.74 252.5 325.3 253.25 323.14 254 321 254.7 321.11 255.4 322.16 256.1 323.63 256.8 323.1 257.65 325.6 258.5 327 259.4 325.15 260.3 325.38 261.2 325.3 261.6 321" stroke="#e01010" stroke-width="1.3"/>
<path d="M40.9 358.8 41.5 335 42.2 320 43 338 43.6 318 44.2 311.2 44.8 332 45.3 328.34 45.75 322.28 46.2 332.56 46.65 318.32 47.1 330.25 47.55 320.27 48 330.89 48.45 327.08 48.9 332.02 49.35 325.64 49.8 324.67 50.25 323.13 50.7 316.99 51.15 333.54 51.6 328.29 52.05 325.48 52.5 330.64 52.95 321.31 53.4 317.42 53.85 320.43 54.3 321.16 54.75 322.41 55.2 322.39 55.65 327.03 56.1 319.48 56.55 317.17 57 329.46 57.45 329.41 57.9 322.02 58.35 324.03 58.8 325.29 59.25 319.41 59.7 315.18 60.15 313.95 60.6 320.15 61.05 321.38 61.5 328.89 61.95 321.55 62.4 324.2 62.85 319.52 63.3 322.98 63.75 328.32 64.2 324.06 64.65 321.34 65.1 319.61 65.55 322.59 66 327.06 66.45 327 66.9 319.55 67.35 325.72 67.8 315.06 68.25 318.77 68.7 311.75 69.15 313.88 69.6 326.75 70.05 319.38 70.5 320.96 70.95 313.11 71.4 313.64 71.85 321.96 72.3 317.94 72.75 317.61 73.2 313.29 73.65 318.8 74.1 316.6 74.55 320.09 75 314.89 75.45 319.61 75.9 321.97 76.35 324.52 76.8 312.44 77.25 312.94 77.7 315.08 78.15 308.73 78.6 313.96 79.05 316.32 79.5 318.7 79.95 312.36 80.4 321.83 81 327.4 81.3 314.32 81.75 318.25 82.2 312.07 82.65 313.97 83.1 314.36 83.55 320.08 84 316.58 84.45 311.33 84.9 319.8 85.35 313.92 85.8 310.45 86.25 313.37 86.7 307.89 87.15 308.38 87.6 318.05 88.05 310.6 88.5 314.02 88.95 308.81 89.4 310.03 89.85 319.45 90.3 316.17 90.75 315.31 91.2 314 91.65 312.39 92.1 313.63 92.55 314.36 93 311.99 93.45 310.96 93.9 311.26 94.35 306.7 94.8 312.17 95.25 306.44 95.7 310.93 96.15 311.01 96.6 308.72 97.05 309.48 97.5 309.98 97.95 311.79 98.4 305.44 98.85 309.01 99.3 305.62 99.75 314.56 100.2 305.78 100.65 310.66 101.1 314.61 101.55 312.23 102 312.2 102.45 307.13 102.9 302.12 103.35 312.67 103.8 302.67 104.25 309.59 104.7 312.28 105.15 312.57 105.6 310.94 106.05 310.31 106.5 307.2 106.95 304.47 107.4 302.96 107.85 308.84 108.3 309.43 108.75 302.16 109.2 303.67 109.65 305.41 110.1 304.02 110.55 308.73 111 303.98 111.45 300.34 111.9 305.78 112.35 305.49 112.8 301.37 113.3 300 113.9 276.5 114.5 302 115.5 305 116.2 304 116.8 238 117.4 306 118 301.25 118.5 313.52 119 311.06 119.5 308.73 120 312.69 120.5 311.22 121 315.54 121.5 306.42 122 307.4 122.5 306.05 123 305.9 123.5 306.23 124 311.38 124.5 303.42 125 300.53 125.5 313.14 126 304.06 126.5 313.57 127 313.96 127.5 300.09 128 313.71 128.5 316.84 129 308.02 129.5 312.05 129.8 321 130.5 316.59 131 303.9 131.5 305.36 132 302.42 132.5 303.72 133 313.06 133.5 299.33 134 308.19 134.5 307.51 135 306.97 135.5 306.2 136 304.01 136.5 305.29 137.01 303.21 137.51 315.8 138.02 312.16 138.53 304.54 139.04 308.15 139.55 311.03 140.06 303.45 140.57 312.24 141.08 314.09 141.6 309.73 142.11 301.02 142.63 298.72 143.15 309.49 143.67 313.85 144.19 315.53 144.72 301.83 145.24 296.22 145.77 298.77 146.29 303.9 146.82 301.2 147.35 302.06 147.88 313.57 148.41 312.18 148.95 301.21 149.48 299.03 150.02 311.09 150.56 303 151.1 299.09 151.64 312.15 152.18 303.2 152.72 312.01 153.26 303.04 153.81 299.87 154.36 306.56 154.91 311.26 155.46 293.22 156.01 303.77 156.8 278.7 157.11 308.63 157.66 304.01 158.21 298.04 158.76 302.11 159.31 297.49 159.86 307 160.41 295 160.96 296.93 161.51 313.09 162.06 300.78 162.61 303.85 163.16 302.81 163.71 304.54 164.26 309.41 164.81 294.27 165.36 311.33 165.91 291.62 166.46 306.25 167.01 305.76 167.56 300.09 168.11 296.5 168.66 296.15 169.21 290.67 169.76 302.17 170.31 306.4 170.86 308.69 171.41 291.07 171.96 296.89 172.51 293.66 173.06 310.99 173.61 297.66 174.16 304.78 174.71 301.93 175.26 297.79 175.81 295.36 176.36 310.13 176.91 308.74 177.46 303.75 178.01 308.59 178.56 299.13 179.11 303.49 179.66 309.95 180.21 304.93 180.76 300.65 181.31 309.06 181.86 297.37 182.41 306.05 182.96 301.22 183.51 294.22 184.06 304.76 184.61 295.52 185.16 311.79 185.71 312.85 186.26 295.22 186.81 294.84 187.36 305.01 187.91 310.49 188.46 298.97 189.01 291.16 189.56 310.37 190.11 308.84 190.66 306.53 191.21 304.46 191.76 291.43 192.31 307.67 192.86 310.24 193.41 292.2 193.96 287.63 194.51 291.39 195.06 286.51 195.61 290.69 196.16 286.48 196.71 303.4 197.3 254.4 197.81 293 198.36 311.74 198.91 301.16 199.46 310.41 200.01 306.09 200.56 297.88 201.11 305.39 201.66 293.85 202.21 299.57 202.76 307.02 203.31 305.42 203.86 297.1 204.41 294.83 204.96 295.27 205.51 291.9 206.06 285.34 206.61 286.78 207.16 305.14 207.71 294.78 208.26 306.25 208.81 307.53 209.36 294.82 209.91 303.12 210.46 287.73 211.01 306.67 211.56 299.64 212.11 294.67 212.66 296.65 213.21 297.56 213.76 299.17 214.6 275.4 215.41 296.37 215.96 294.09 216.51 283.08 217.06 303.01 217.61 307.52 218.16 283.16 218.71 307.68 219.26 305.56 220 263.5 220.36 298.8 220.91 285.43 221.46 304.11 222.01 300.54 222.56 291.13 223.9 365.3 224.6 295 225.4 300 226.5 354.5 227.5 290 228.2 300 228.7 235.3 229.5 280 230.2 262 231 275 231.7 250 232.4 262 233 235 233.8 245 234.7 218 235.4 238 236.1 230 236.8 255 237.5 248 238.2 270 239 262 239.6 290 240.3 304.74 240.8 271.34 241.3 275.21 241.8 311.51 242.3 280.87 242.8 290.38 243.3 286.13 243.8 267.35 244.3 264.92 244.8 285.9 245.3 295.46 245.8 276.02 246.3 276.61 246.8 269.95 247.3 305.01 247.8 293.82 248.3 275.3 248.8 294.24 249.3 301.75 249.7 226.7 250.3 350.2 250.8 285.74 251.3 265.2 251.8 272.06 252.3 273.93 252.8 290.88 253.6 238.6 254.3 349 254.8 308.15 255.3 294.15 255.8 314.06 256.3 285.35 256.8 312.42 257.5 229.9 257.8 300.85 258.3 267.05 259 334 259.3 278.47 259.8 267.17 260.3 295.53 260.7 249.4 261.3 277.6 261.8 287.03 262.3 316.37 262.8 272.39 263.3 263.51 264 229.9 264.3 293.07 264.8 278.65 265.3 291.8 265.8 315.73 266.3 307.57 266.8 287.9 267.3 275.1 267.8 317.26 268.3 280.87 268.8 299.53 269.3 306.73 269.8 231 270.3 296.17 270.9 355.6" stroke="#000" stroke-width="1.2"/>
</g>
<path d="M40.7 373.4v-5.5M40.7 208.4v5.5M55.84 373.4v-2.8M55.84 208.4v2.8M70.98 373.4v-2.8M70.98 208.4v2.8M86.12 373.4v-2.8M86.12 208.4v2.8M101.26 373.4v-2.8M101.26 208.4v2.8M116.4 373.4v-5.5M116.4 208.4v5.5M131.54 373.4v-2.8M131.54 208.4v2.8M146.68 373.4v-2.8M146.68 208.4v2.8M161.82 373.4v-2.8M161.82 208.4v2.8M176.96 373.4v-2.8M176.96 208.4v2.8M192.1 373.4v-5.5M192.1 208.4v5.5M207.24 373.4v-2.8M207.24 208.4v2.8M222.38 373.4v-2.8M222.38 208.4v2.8M237.52 373.4v-2.8M237.52 208.4v2.8M252.66 373.4v-2.8M252.66 208.4v2.8M267.8 373.4v-5.5M267.8 208.4v5.5M282.94 373.4v-2.8M282.94 208.4v2.8M29.6 370.68h2.8M283.1 370.68h-2.8M29.6 363.64h2.8M283.1 363.64h-2.8M29.6 356.6h5.5M283.1 356.6h-5.5M29.6 349.56h2.8M283.1 349.56h-2.8M29.6 342.52h2.8M283.1 342.52h-2.8M29.6 335.48h2.8M283.1 335.48h-2.8M29.6 328.44h5.5M283.1 328.44h-5.5M29.6 321.4h2.8M283.1 321.4h-2.8M29.6 314.36h2.8M283.1 314.36h-2.8M29.6 307.32h2.8M283.1 307.32h-2.8M29.6 300.28h5.5M283.1 300.28h-5.5M29.6 293.24h2.8M283.1 293.24h-2.8M29.6 286.2h2.8M283.1 286.2h-2.8M29.6 279.16h2.8M283.1 279.16h-2.8M29.6 272.12h5.5M283.1 272.12h-5.5M29.6 265.08h2.8M283.1 265.08h-2.8M29.6 258.04h2.8M283.1 258.04h-2.8M29.6 251h2.8M283.1 251h-2.8M29.6 243.96h5.5M283.1 243.96h-5.5M29.6 236.92h2.8M283.1 236.92h-2.8M29.6 229.88h2.8M283.1 229.88h-2.8M29.6 222.84h2.8M283.1 222.84h-2.8M29.6 215.8h5.5M283.1 215.8h-5.5M29.6 208.76h2.8M283.1 208.76h-2.8" stroke="#4a4a4a" stroke-width="1" fill="none"/>
<rect x="29.6" y="208.4" width="253.5" height="165" stroke="#4a4a4a" stroke-width="1.1" fill="none"/>
<text x="40.7" y="384" class="tl" text-anchor="middle">4000</text>
<text x="116.4" y="384" class="tl" text-anchor="middle">5000</text>
<text x="192.1" y="384" class="tl" text-anchor="middle">6000</text>
<text x="267.8" y="384" class="tl" text-anchor="middle">7000</text>
<text x="24.8" y="359.8" class="tl" text-anchor="end">0</text>
<text x="24.8" y="331.64" class="tl" text-anchor="end">0.2</text>
<text x="24.8" y="303.48" class="tl" text-anchor="end">0.4</text>
<text x="24.8" y="275.32" class="tl" text-anchor="end">0.6</text>
<text x="24.8" y="247.16" class="tl" text-anchor="end">0.8</text>
<text x="24.8" y="219" class="tl" text-anchor="end">1</text>
<text x="122.6" y="396.3" class="xl" textLength="71" lengthAdjust="spacingAndGlyphs">rest-frame &#955;[&#197;]</text>
<text transform="translate(6.5 321.6) rotate(-90)" class="al" textLength="66" lengthAdjust="spacingAndGlyphs">arbitrary units</text>
<text x="46" y="230" class="an" textLength="37.7" lengthAdjust="spacingAndGlyphs">XID=135</text>
<text x="93.3" y="230" class="an" textLength="36.3" lengthAdjust="spacingAndGlyphs">z=0.376</text>
<text x="134.4" y="230" class="an" textLength="31.8" lengthAdjust="spacingAndGlyphs">E(B&#8722;V)</text>
<text x="166.9" y="232.2" class="sub an" textLength="9" lengthAdjust="spacingAndGlyphs">qso</text>
<text x="177.1" y="230" class="an" textLength="10.9" lengthAdjust="spacingAndGlyphs">=1</text>
<text x="102.7" y="357.6" class="ll" textLength="4.2" lengthAdjust="spacingAndGlyphs">H</text>
<text x="107.4" y="359.4" class="lg" textLength="2.8" lengthAdjust="spacingAndGlyphs">&#946;</text>
<text x="110.3" y="357.9" class="lo" textLength="17" lengthAdjust="spacingAndGlyphs">[OIII]</text>
<text x="230.8" y="357.8" class="ll" textLength="4" lengthAdjust="spacingAndGlyphs">H</text>
<text x="235.3" y="359.6" class="lg" textLength="2.8" lengthAdjust="spacingAndGlyphs">&#945;</text>
<clipPath id="cp4"><rect x="338.9" y="208.5" width="252.5" height="164.8"/></clipPath>
<g clip-path="url(#cp4)" fill="none" stroke-linejoin="round">
<path d="M339.2 301.3 340.01 301.59 340.82 301.88 341.63 302.13 342.44 302.44 343.25 302.53 344.05 302.86 344.86 302.54 345.67 303.02 346.48 303.53 347.29 303.57 348.1 303.7 348.91 304.15 349.71 303.88 350.52 304.3 351.33 304.37 352.13 304.76 352.94 304.98 353.75 304.85 354.55 305.18 355.36 305.43 356.17 306.02 356.97 306.13 357.78 305.98 358.59 306.56 359.39 306.38 360.2 306.8 361 306.66 361.8 306.16 362.6 305.88 363.4 306.2 364.2 305.59 365 305.39 365.8 305.64 366.6 305.37 367.4 304.81 368.2 305.01 369 304.55 369.8 304.43 370.6 303.94 371.4 304.17 372.2 303.7 373.01 303.7 373.81 303.75 374.62 303.6 375.43 303.13 376.23 303.05 377.04 302.82 377.85 302.69 378.65 302.53 379.46 302.56 380.27 302.63 381.07 302.16 381.88 302.45 382.69 302.13 383.49 302 384.3 302 385.11 302.14 385.91 301.9 386.72 301.75 387.53 301.8 388.33 301.89 389.14 301.45 389.95 301.96 390.75 301.34 391.56 301.73 392.37 301.74 393.17 301.2 393.98 301.61 394.79 301.31 395.59 301.39 396.4 301.3 397.21 301.05 398.01 301.12 398.82 301.25 399.63 301.76 400.43 301.35 401.24 301.73 402.05 301.88 402.85 301.94 403.66 301.63 404.47 301.68 405.27 301.83 406.08 302.03 406.89 301.67 407.69 302.1 408.5 302 409.31 302.29 410.11 302.44 410.92 302.06 411.73 302.72 412.53 302.32 413.34 302.58 414.15 302.86 414.95 303.16 415.76 302.92 416.57 303.39 417.37 303.27 418.18 303.25 418.99 303.36 419.79 303.39 420.6 303.7 421.41 303.61 422.21 303.81 423.02 304.29 423.83 304.64 424.63 304.3 425.44 304.39 426.25 305.11 427.05 305 427.86 305.08 428.67 305.14 429.47 305.52 430.28 305.82 431.09 305.75 431.89 305.89 432.7 306.1 433.51 305.96 434.32 306.59 435.13 306.19 435.94 306.59 436.76 306.91 437.57 306.61 438.38 307.09 439.19 307.35 440 307.2 440.83 307.11 441.66 307.03 442.49 306.45 443.31 306.48 444.14 306.13 444.97 306.38 445.8 306 446.64 305.55 447.49 305.31 448.33 305.31 449.17 304.9 450.01 304.64 450.86 304 451.7 303.7 452.53 303.19 453.36 302.84 454.19 302.19 455.01 301.57 455.84 301.14 456.67 300.49 457.5 300.2 458.38 298.65 459.25 297.54 460.12 296.05 461 294.3 462.15 290.88 463.3 287.3 464.9 283.8 466.3 287.3 467.45 291.4 468.6 295.5 469.42 297.04 470.24 298.53 471.06 300.28 471.88 302.23 472.7 303.7 473.53 304.25 474.36 304.27 475.19 304.86 476.01 305.18 476.84 305.46 477.67 305.77 478.5 306 479.33 306.58 480.16 306.78 480.99 307.41 481.81 307.58 482.64 308.13 483.47 308.73 484.3 309 485.14 308.84 485.98 308.33 486.81 308.44 487.65 307.99 488.49 307.67 489.32 307.06 490.16 307.1 491 306.8 491.81 306.84 492.62 307.28 493.43 307.34 494.24 307.75 495.06 307.83 495.87 308.11 496.68 308.03 497.49 308.4 498.3 308.5 499.2 309.16 500.1 309.72 501 309.95 501.9 310.76 502.8 311.28 503.7 311.69 504.6 312.37 505.5 312.6 506.31 312.87 507.11 312.61 507.92 312.62 508.72 312.4 509.53 312.8 510.33 312.86 511.14 312.59 511.94 312.71 512.75 312.73 513.56 312.74 514.36 312.4 515.17 312.77 515.97 312.65 516.78 312.7 517.58 312.55 518.39 312.67 519.19 312.76 520 312.6 520.81 312.55 521.61 312.47 522.42 311.92 523.22 311.86 524.03 311.9 524.83 311.89 525.64 311.5 526.44 311.64 527.25 311.48 528.06 310.99 528.86 311.12 529.67 310.84 530.47 310.6 531.28 310.51 532.08 310.49 532.89 310.28 533.69 310.15 534.5 310.2 535.31 310.05 536.11 310.45 536.92 310.53 537.72 310.8 538.53 310.92 539.33 310.84 540.14 311.38 540.94 310.97 541.75 311.34 542.56 311.4 543.36 311.61 544.17 311.57 544.97 312.13 545.78 311.99 546.58 311.92 547.39 312.4 548.19 312.22 549 312.6 549.81 312.77 550.61 312.78 551.42 313.07 552.22 313.43 553.03 313.49 553.83 313.38 554.64 313.76 555.44 313.8 556.25 313.77 557.06 313.77 557.86 314.19 558.67 314.3 559.47 314.68 560.28 314.83 561.08 314.75 561.89 314.73 562.69 315.2 563.5 315.1 564.31 314.75 565.11 314.75 565.92 314.97 566.72 314.95 567.53 314.61 568.33 314.84 569.14 314.95 569.94 314.58 570.75 314.56 571.56 314.38 572.36 314.36 573.17 314.72 573.97 314.31 574.78 314.6 575.58 314.51 576.39 314.27 577.19 314.01 578 314.1 578.81 314.42 579.62 314.16 580.44 314.14 581.25 314.12 582.06 314.55 582.88 314.28 583.69 314.19 584.5 314.34 585.31 314.15 586.12 314.49 586.94 314.41 587.75 314.35 588.56 314.68 589.38 314.73 590.19 314.28 591 314.6" stroke="#e01010" stroke-width="1.3"/>
<path d="M339.2 238 344.2 238 344.4 330 345 276 345.6 350 346.2 272 346.8 340 347.4 290 348 372.5 348.6 295 349.2 345 349.8 300 350.3 325 350.5 315.28 351 312.13 351.5 306.49 352 318.63 352.5 301.19 353 310.38 353.5 312.57 354 302.89 354.5 310.16 355 304.93 355.5 310.37 356 319.37 356.5 312.55 357 303.22 357.5 305.22 358 309.66 358.5 314.58 359 313 359.5 305.58 360 314.42 360.5 318.18 361 313.21 361.5 308.43 362 310.2 362.5 303.78 363 314.83 363.5 308.02 364 300.81 364.5 304.83 365 304.36 365.5 308.44 366 309.53 366.5 298.17 367 309.27 367.5 313.13 368 309.2 368.5 307.58 369 310.86 369.5 306.64 370 307.36 370.5 305.66 371 314.68 371.5 308.86 372 297.35 372.5 299.97 373 305.41 373.5 310.82 374 315.05 374.5 308.9 375 310.4 375.5 302.3 376 307.23 376.5 297.97 377 309.65 377.5 299.74 378 297.87 378.5 301.96 379 311.31 379.5 297.05 380 308.92 380.5 316.65 381 307.41 381.5 306.51 382 301.82 382.5 299.63 383 298.39 383.5 308.11 384 316.25 384.5 308.65 385 302.97 385.5 316.48 386 311.07 386.5 311.55 387 308.99 387.5 311.67 388 306.91 388.5 307.59 389 300.86 389.5 299.53 390 302.7 390.5 310.27 391 309.44 391.5 304.31 392 300.46 392.5 309.48 393 310.75 393.5 304.98 394 304.62 394.5 307.64 395 306.44 395.5 309.39 396 314.79 396.5 311.59 397 300.08 397.5 305.33 398 315.17 398.3 329 399 315.91 399.5 303.15 400 300.74 400.5 303.37 401 316.1 401.5 309.68 402 314.27 402.5 314.45 403 310.03 403.5 303.53 404 300.31 404.5 311.5 405 301.24 405.5 306.38 406 297 406.5 312.7 407 298.06 407.5 311.61 408 311.31 408.5 302.42 409 308.72 409.5 312.63 410 298.12 410.5 305.14 411 309.46 411.5 299.96 412 313.41 412.5 303.94 413 312.7 413.5 297 414 308.24 414.5 305.12 415 303.68 415.5 315.85 416 305.35 416.5 313.77 417 308.24 417.5 300.04 418 309.52 418.5 307.28 419 305.59 419.5 312.55 420 299.25 420.5 299.14 421 302.18 421.5 305.36 422 311.95 422.5 309.54 423 305.96 423.5 313.98 424 314.3 424.5 305.79 425 308.05 425.5 309.72 426 316 426.5 310.26 427 310.35 427.5 303.15 428 314.43 428.5 307.08 429 316.62 429.5 314.79 430 306.52 430.5 303.23 431 316.74 431.5 315.43 432 306.28 432.5 307.03 433 311.5 433.5 311.99 434 319.12 434.5 309.6 435 317.62 435.5 315.1 436 303.62 436.5 312.08 437 311.96 437.5 317.66 438 307.79 438.5 315.09 439 311.37 439.5 312.84 440 306.59 440.5 306.9 441 317.6 441.5 309.37 442 314.42 442.5 312.47 443 302.53 443.5 318.96 444 311.45 444.5 306.9 445 311.05 445.5 311.31 446 305.39 446.5 312.71 447 314.92 447.5 309.24 448 313.7 448.5 303.37 449 309.67 449.5 313.33 450 312.91 450.5 304.03 451 316.24 451.5 314.87 452 303.9 452.5 305.93 453 310.77 453.5 316.72 454 312 454.5 308.55 455 309.27 455.5 303.66 456 299 456.5 304.27 457 295.27 457.5 304.64 458 290.88 458.5 290.78 459 291.02 459.5 287.57 460 284.78 460.5 282.43 461 274.14 461.5 279.41 462 276.6 462.5 273.52 463 273.08 463.5 270.68 464 274.04 464.5 268.95 465 279.08 465.5 270.56 466 278.03 466.5 277.52 467 275.47 467.5 280.38 468 275.4 468.5 278.66 469 285.45 469.5 288.7 470 287.4 470.5 298.29 471 291.96 471.5 300.64 472 292.34 472.5 305.57 473 300.98 473.5 306.2 474 295.26 474.5 302.51 475 310.04 475.5 304.17 475.99 311.1 476.48 308.3 476.95 314.13 477.42 303.94 477.88 308.73 478.33 308.38 478.78 315.89 479.23 316.2 479.67 311.81 480.12 309.11 480.56 304.26 481.01 310.14 481.45 312.64 481.89 310.88 482.33 322.11 482.77 313.02 483.21 314.95 483.65 306.68 484.08 307.82 484.52 313.35 484.95 308.33 485.38 312.82 485.81 308.93 486.25 311.94 486.67 315.7 487.1 320.92 487.53 306.35 487.96 309.26 488.38 307.53 488.81 326.57 489.23 315.05 489.8 286.8 490.49 315.36 490.91 313.34 491.33 303.32 491.75 303.39 492.17 306.52 492.59 309.24 493.01 329.22 493.43 325.9 493.85 323.74 494.27 309.82 494.69 325.71 495.11 322.78 495.53 305.08 495.95 325.76 496.37 305.45 496.79 310.19 497.21 311.85 497.63 307.68 498.05 313.3 498.47 305.25 498.89 315.29 499.31 307.67 499.73 321.65 500.15 313.17 500.57 310.34 500.99 322.49 501.41 325.1 501.83 313.75 502.25 314.66 502.67 323.63 503.09 321.44 503.51 325.69 503.93 303.45 504.35 312.06 504.77 312.2 505.19 312.26 505.61 318.21 506.03 321.58 506.7 343.6 507.29 313.39 507.71 321.31 508.13 317.54 508.55 306.3 508.97 311.51 509.39 307.08 509.81 308.73 510.23 330.53 510.65 316.16 511.07 317.8 511.5 348.4 511.91 317.41 512.33 327.8 512.75 316.99 513.17 304.58 513.59 304.37 514.01 315.71 514.43 328.51 514.85 321.38 515.27 328.35 515.69 320.39 516.11 305.22 516.53 323.68 516.95 318.36 517.37 304.07 517.79 319.4 518.21 323.41 518.63 324.18 519.05 317.97 519.47 319.81 520 340 520.31 314.49 520.73 320.21 521.15 325.97 521.57 319.88 521.99 312.51 522.41 330.66 522.83 323.92 523.25 323.16 523.67 304 524.09 331.14 524.51 319.04 524.93 303.98 525.35 332.33 525.77 328.72 526.19 312.27 526.61 316.55 527 296 527.45 316.43 527.87 326.53 528.29 312.29 528.71 323.07 529.13 308.52 529.55 311.52 529.97 332.52 530.39 327.41 530.81 315.01 531.23 317.52 531.65 325.35 532.07 327.3 532.49 326.82 532.91 315.39 533.33 313.73 533.75 305.45 534.17 319.12 534.59 323.37 535.01 313.96 535.43 308.05 535.85 303.26 536.27 314.96 536.69 308.43 537 350.8 537.53 319.99 537.95 322.08 538.37 324.9 538.79 312.51 539.21 326.65 539.63 312.67 540.05 326.74 540.47 322.92 540.89 310.45 541.31 314.83 541.73 317.18 542.15 310.23 542.57 322.42 542.99 305.37 543.41 333.15 543.83 313.02 544.25 321.44 544.67 314.05 545 290 545.51 309.5 545.93 318.71 546.35 322.69 546.77 319.34 547.19 314.67 547.61 327.56 548.03 330.31 548.45 332.01 548.87 323.06 549.29 308.4 549.71 319.14 550.13 323.86 550.55 333.28 550.97 328.46 551.39 313.88 552 292 552.65 315.43 553.07 322.28 553.49 306.94 553.91 309.46 554.33 309.55 554.75 302.96 555.17 313.7 555.59 317.55 556.01 313.04 556.43 323.32 556.85 318.39 557.27 324.73 557.69 325.81 558.11 332.3 558.53 315.91 558.95 315.25 559.37 312.15 559.79 320.87 560.21 329.48 560.63 322.28 561 285.6 561.47 326.32 561.89 309.16 562.31 325.78 562.73 313 563.15 311.99 563.57 319.8 563.99 320.39 564.41 326.16 564.83 314.95 565.25 325.17 565.67 321.28 566 345 566.51 311.74 566.93 315.66 567.35 310.43 567.77 331.62 568.19 329.93 568.61 302.37 569.03 302.36 569.45 303.81 569.87 327.44 570.29 324.86 570.7 372.6 571.13 315.3 571.55 315.13 571.97 311.72 572.39 324.54 572.81 313.37 573.23 322.7 573.65 315.09 574.07 309.09 574.49 321.03 574.91 315.58 575.6 274.7 576.17 318.02 576.59 325.93 577.01 302.28 577.43 318.03 577.85 316.47 578.27 307.42 578.69 312.31 579.11 307.04 579.53 308.84 579.95 327.37 580.37 314.89 580.79 317.24 581.21 305.82 581.6 372.6 582.05 324.6 582.47 326.73 582.89 305.6 583.31 314.32 583.73 314.65 584.15 304.19 584.57 323.19 584.99 324.79 585.41 313.05 586 290 586.67 324.78 587.09 317.83 587.51 302.35 587.93 316.04 588.35 315.26 588.77 319.79 589.19 324.94 589.61 320.18 590.03 332.39 590.45 313.45 590.87 306.35" stroke="#000" stroke-width="1.2"/>
</g>
<path d="M356.14 373.3v-2.8M356.14 208.5v2.8M374.26 373.3v-2.8M374.26 208.5v2.8M392.38 373.3v-2.8M392.38 208.5v2.8M410.5 373.3v-5.5M410.5 208.5v5.5M428.62 373.3v-2.8M428.62 208.5v2.8M446.74 373.3v-2.8M446.74 208.5v2.8M464.86 373.3v-2.8M464.86 208.5v2.8M482.98 373.3v-2.8M482.98 208.5v2.8M501.1 373.3v-5.5M501.1 208.5v5.5M519.22 373.3v-2.8M519.22 208.5v2.8M537.34 373.3v-2.8M537.34 208.5v2.8M555.46 373.3v-2.8M555.46 208.5v2.8M573.58 373.3v-2.8M573.58 208.5v2.8M338.9 366.1h2.8M591.4 366.1h-2.8M338.9 358.6h5.5M591.4 358.6h-5.5M338.9 351.1h2.8M591.4 351.1h-2.8M338.9 343.6h2.8M591.4 343.6h-2.8M338.9 336.1h2.8M591.4 336.1h-2.8M338.9 328.6h5.5M591.4 328.6h-5.5M338.9 321.1h2.8M591.4 321.1h-2.8M338.9 313.6h2.8M591.4 313.6h-2.8M338.9 306.1h2.8M591.4 306.1h-2.8M338.9 298.6h5.5M591.4 298.6h-5.5M338.9 291.1h2.8M591.4 291.1h-2.8M338.9 283.6h2.8M591.4 283.6h-2.8M338.9 276.1h2.8M591.4 276.1h-2.8M338.9 268.6h5.5M591.4 268.6h-5.5M338.9 261.1h2.8M591.4 261.1h-2.8M338.9 253.6h2.8M591.4 253.6h-2.8M338.9 246.1h2.8M591.4 246.1h-2.8M338.9 238.6h5.5M591.4 238.6h-5.5M338.9 231.1h2.8M591.4 231.1h-2.8M338.9 223.6h2.8M591.4 223.6h-2.8M338.9 216.1h2.8M591.4 216.1h-2.8M338.9 208.6h5.5M591.4 208.6h-5.5" stroke="#4a4a4a" stroke-width="1" fill="none"/>
<rect x="338.9" y="208.5" width="252.5" height="164.8" stroke="#4a4a4a" stroke-width="1.1" fill="none"/>
<text x="410.5" y="383.9" class="tl" text-anchor="middle">2500</text>
<text x="501.1" y="383.9" class="tl" text-anchor="middle">3000</text>
<text x="591.7" y="383.9" class="tl" text-anchor="middle">3500</text>
<text x="334.1" y="361.8" class="tl" text-anchor="end">0</text>
<text x="334.1" y="331.8" class="tl" text-anchor="end">0.2</text>
<text x="334.1" y="301.8" class="tl" text-anchor="end">0.4</text>
<text x="334.1" y="271.8" class="tl" text-anchor="end">0.6</text>
<text x="334.1" y="241.8" class="tl" text-anchor="end">0.8</text>
<text x="334.1" y="211.8" class="tl" text-anchor="end">1</text>
<text x="431.9" y="396.2" class="xl" textLength="71" lengthAdjust="spacingAndGlyphs">rest-frame &#955;[&#197;]</text>
<text transform="translate(316 321.7) rotate(-90)" class="al" textLength="66" lengthAdjust="spacingAndGlyphs">arbitrary units</text>
<text x="343" y="223.3" class="an" textLength="44" lengthAdjust="spacingAndGlyphs">XID=2072</text>
<text x="396" y="223.3" class="an" textLength="36.3" lengthAdjust="spacingAndGlyphs">z=1.591</text>
<text x="438" y="223.3" class="an" textLength="31.8" lengthAdjust="spacingAndGlyphs">E(B&#8722;V)</text>
<text x="470.5" y="225.5" class="sub an" textLength="9" lengthAdjust="spacingAndGlyphs">qso</text>
<text x="480.7" y="223.3" class="an" textLength="19.5" lengthAdjust="spacingAndGlyphs">=0.5</text>
<text x="457.5" y="361.1" class="ll" textLength="14.2" lengthAdjust="spacingAndGlyphs">MgII</text>
<text x="519" y="361.1" class="ll" textLength="12" lengthAdjust="spacingAndGlyphs">OIII</text>
<clipPath id="cp5"><rect x="29.8" y="410.2" width="252.7" height="165.5"/></clipPath>
<g clip-path="url(#cp5)" fill="none" stroke-linejoin="round">
<path d="M29.8 479.5 30.8 479.77 31.8 480.05 32.8 481.68 33.8 482 34.62 481.54 35.43 482.87 36.25 482.93 37.07 482.72 37.88 484.01 38.7 484.4 39.6 483.17 40.5 483.67 41.4 482.64 42.3 483.2 43.1 480.11 43.9 478.52 44.7 476.4 45.9 481.65 47.1 485.6 48.02 485.23 48.94 485.81 49.86 486.99 50.78 488.02 51.7 487.5 52.53 488.49 53.37 488.96 54.2 490.95 55.03 489.93 55.87 492.38 56.7 492.5 57.53 491.88 58.35 491.39 59.17 491.14 60 491.7 60.83 491.58 61.67 492.87 62.5 491.86 63.33 492.93 64.17 493.31 65 493.3 65.83 493.46 66.67 494.23 67.5 493.68 68.33 494.09 69.17 494.8 70 495.8 71.6 495.8 72 472.5 72.4 495.8 73.26 496.16 74.12 495.66 74.98 495.43 75.84 495.97 76.7 495.8 77.53 496.96 78.35 497.9 79.17 500.14 80 500.8 80.83 500.66 81.67 499.22 82.5 499.2 83.5 493.5 84.5 487.5 85.8 499.2 86.64 499.91 87.48 501.27 88.32 501.64 89.16 501.42 90 502.5 90.83 502.84 91.65 500.49 92.47 500.46 93.3 500 94.15 502.61 95 504.2 95.83 503.64 96.67 504.44 97.5 503.68 98.33 505.07 99.17 505.4 100 505 100.83 505.01 101.67 505.48 102.5 504.23 103.33 504.86 104.17 504.52 105 504.2 105.92 504.83 106.85 505.06 107.78 506.3 108.7 506.1 109.51 507.07 110.32 506.2 111.13 506.66 111.94 505.53 112.76 506.89 113.57 506.86 114.38 507.63 115.19 507.37 116 506.8 116.96 505.75 117.92 505.33 118.88 505.28 119.84 503.37 120.8 503.7 121.62 502.82 122.43 501.44 123.25 500.53 124.07 499.62 124.88 500.24 125.7 498.9 126.9 492.71 128.1 488 129 491.12 129.9 495.03 130.8 499.62 131.7 502.5 132.56 502.18 133.41 503.43 134.27 504.14 135.13 505.32 135.99 505.71 136.84 506.31 137.7 506.1 138.51 505.26 139.32 505.13 140.13 504.62 140.94 505.27 141.76 505.02 142.57 503 143.38 502.65 144.19 502.36 145 502.5 145.9 502.12 146.8 502.77 147.7 503.13 148.6 502.63 149.5 502.26 150.4 503.24 151.3 503.29 152.2 503.7 153.05 504.28 153.9 505.51 154.75 505.43 155.6 505.53 156.45 506.19 157.3 506.75 158.15 505.96 159 507.3 159.86 507.62 160.72 506.9 161.58 506.61 162.44 505.98 163.3 504.9 164.22 504 165.13 503.33 166.05 502.06 166.97 502.44 167.88 500.61 168.8 500.8 169.65 496.53 170.5 494 171.5 486 172.3 474 172.9 463.6 173.5 474 174.3 486 175.5 494 177 500 178.4 503 179.45 498.92 180.5 496 181.2 486 181.7 476 182.2 486 183 496 183.9 499 185.3 490 185.8 470 186.1 437.5 186.4 470 187 492 188 503.5 188.82 504.74 189.64 507.02 190.46 508.37 191.28 510.18 192.1 513.1 192.91 512.4 193.72 512.3 194.53 512.83 195.33 512.15 196.14 513.85 196.95 513.33 197.76 512.4 198.57 512.6 199.38 512.79 200.18 512.83 200.99 512.35 201.8 513.1 202.67 513.68 203.55 513.85 204.42 512.68 205.29 512.59 206.16 511.68 207.04 511.6 207.91 511.96 208.78 511.68 209.65 512.69 210.53 511.24 211.4 511.8 212.27 511.22 213.15 513.45 214.02 512.97 214.89 512.58 215.76 513.75 216.64 513.09 217.51 514.47 218.38 515.74 219.25 515.88 220.13 515.92 221 515.9 221.85 515.63 222.69 516.05 223.54 515.86 224.38 517.27 225.23 517 226.08 517.7 226.92 517.01 227.77 517.01 228.62 518.39 229.46 518.95 230.31 518.89 231.15 519 232 518.6 232.85 519.34 233.69 519.3 234.54 518.38 235.38 519.07 236.23 518.85 237.08 518.3 237.92 518.41 238.77 519.02 239.62 519.09 240.46 520.06 241.31 520.7 242.15 519.79 243 520 243.83 520.87 244.66 520.98 245.49 520.91 246.32 519.73 247.15 519.44 247.98 519.45 248.81 519.39 249.64 519.41 250.47 520.25 251.3 520 252.12 520.53 252.94 520.13 253.76 519.14 254.58 519.21 255.4 519.23 256.22 517.53 257.04 518.41 257.86 518.63 258.68 518.1 259.5 517.77 260.32 516.95 261.14 516.08 261.96 517.02 262.78 515.84 263.6 515.9 264.46 517.01 265.33 517.87 266.19 517.23 267.05 517.75 267.91 519.36 268.77 519.42 269.64 518.83 270.5 520 271.34 519.45 272.19 519.7 273.03 521.41 273.87 521.41 274.71 520.29 275.56 521.85 276.4 522.36 277.24 521.91 278.09 521.5 278.93 522.1 279.77 521.46 280.61 521.43 281.46 523.54 282.3 522.8" stroke="#e01010" stroke-width="1.3"/>
<path d="M41.2 552 41.5 537 42.5 525 43.5 514 44.5 517 45 501 45.8 515 47 518 48 529 49.5 524 50.5 521 51.5 510 52.5 515 53.5 520 55.5 528 57 520 58 514 59.5 518 60.5 522 61.5 515 62.5 525 63.5 518 64.5 524 65.5 519 66.5 525 67.5 520 68.5 524 69.5 520 70.5 525 71.5 517 72 500 72.8 515 74 510 75.5 515 77 512 78.5 522 79.5 515 81 510 82.5 505 83.5 512 84.5 508 85.5 516 86.5 510 87.5 518 88.5 508 89.5 513 90.5 506 92 515 93 506 94 510 95 504 96 514 97 508 98 511 99 504 100 508 101 502 102 506 103 503 105 508 107 500 109 512 111 505 112.5 490 113.5 505 114.5 510 115.5 515 116.5 505 117 490 118 488 119 495 120 492 121 500 122 490 123.5 485 125 492 126.5 475 127.5 490 128.5 498 130 490 131 500 132 485 133 497 134 505 135 495 136 488 137 502 138.5 500 139.5 485 140.5 490 141.5 473 142.5 485 143.5 480 144.5 495 145.5 475 146.5 490 147.5 471 148.5 483 149.5 500 150.5 490 151.5 485 152.5 473 153.5 490 154.5 505 155.5 495 156.5 483 157.5 520 158.5 505 159.5 515 160.5 505 161.5 518 162.5 508 163.5 520 164.5 502 165.5 518 166.5 510 168 500 169.5 505 170.5 497 171.5 490 172.4 470 173 440 173.4 418.3 173.8 440 174.4 470 175 488 175.6 495 177 500 178.5 506 179.8 503 181 495 182 484.3 183 500 183.9 514.5 185 490 186.1 456.8 187.2 495 188.3 510 189.4 514.5 190.5 505 191.5 512 192.3 500 193 489.83 193.5 501.74 194 501.39 194.5 490.64 195 485.44 195.5 484.49 196 507.76 196.5 480.79 197 490.36 197.5 488.88 198 492.68 198.5 493.32 199 469.1 199.5 484.69 200 504.58 200.5 477.27 201 482.04 201.5 497.11 202 485.99 202.5 503.87 203.1 473.3 203.5 483.42 204 491.56 204.5 482.26 205 479.96 205.5 489.75 206 503.86 206.5 481.93 207 476.61 207.5 490.21 208 480.82 208.5 478.39 209 482.23 209.5 485.61 210 470.5 210.5 485.77 211 477.02 211.5 491.76 212 481.91 212.5 475.73 213 498.77 213.6 458.1 214 496.58 214.5 494.83 215 491.25 215.5 480.53 216 484.4 216.5 485.3 217 478.33 217.5 482.7 218 481.62 218.5 492.99 219 489.55 219.5 477.35 220 499.5 220.5 501.46 221 497.77 221.5 485.78 222 498.72 222.5 498.39 223 493.13 223.5 500.32 224 503.94 224.5 501.34 225 479 225.5 483.86 226 495.9 226.5 536.5 227 501.87 227.5 501.76 228 503.92 228.5 485.92 229 496.2 229.5 495.54 230 487.45 230.5 506.06 231 500.12 231.5 483.45 232 501.38 232.5 489.2 233 498.92 233.5 491.38 234 497.03 234.5 494.65 235 496.74 235.5 499.7 236 500.9 236.5 499.62 237 490.36 237.5 496.26 238 498.16 238.5 498.18 239 510.23 239.5 495 240 505.63 240.5 503.81 241 496.13 241.5 500.67 242 503.55 242.5 509.24 243 494.37 243.5 486.66 244 508.76 244.5 506.82 245 504.65 245.5 509.27 246 494.4 246.5 499.29 247 496.61 247.5 498.46 248 496.03 248.5 500.41 249 491.2 249.5 512.28 249.9 473.3 250.5 494.91 251 508.01 251.5 505.4 252 504.26 252.5 502.7 253 510.94 253.5 558.5 254 498.1 254.5 500.09 255 488.24 255.5 503.99 256 504.07 256.5 501.2 257 501.71 257.5 490.67 258.1 539.3 258.5 489.57 259 505.99 259.5 481.5 260 500.42 260.5 513.8 261 512.37 261.5 502 262 513.15 262.5 505.37 263 496.04 263.6 476 264 511.04 264.5 507.87 265 497.45 265.5 499.49 266 513.59 266.5 494.74 267 499.26 267.5 511.3 268 501.97 268.5 494.56 269 502.94 269.5 486.07 270 498.22 270.5 568.1 271 486.22 271.5 497.52 272 488.27" stroke="#000" stroke-width="1.2"/>
</g>
<path d="M42.69 575.7v-2.8M42.69 410.2v2.8M60.56 575.7v-2.8M60.56 410.2v2.8M78.43 575.7v-2.8M78.43 410.2v2.8M96.3 575.7v-5.5M96.3 410.2v5.5M114.17 575.7v-2.8M114.17 410.2v2.8M132.04 575.7v-2.8M132.04 410.2v2.8M149.91 575.7v-2.8M149.91 410.2v2.8M167.78 575.7v-2.8M167.78 410.2v2.8M185.65 575.7v-5.5M185.65 410.2v5.5M203.52 575.7v-2.8M203.52 410.2v2.8M221.39 575.7v-2.8M221.39 410.2v2.8M239.26 575.7v-2.8M239.26 410.2v2.8M257.13 575.7v-2.8M257.13 410.2v2.8M275 575.7v-5.5M275 410.2v5.5M29.8 568.3h5.5M282.5 568.3h-5.5M29.8 560.8h2.8M282.5 560.8h-2.8M29.8 553.3h2.8M282.5 553.3h-2.8M29.8 545.8h2.8M282.5 545.8h-2.8M29.8 538.3h5.5M282.5 538.3h-5.5M29.8 530.8h2.8M282.5 530.8h-2.8M29.8 523.3h2.8M282.5 523.3h-2.8M29.8 515.8h2.8M282.5 515.8h-2.8M29.8 508.3h5.5M282.5 508.3h-5.5M29.8 500.8h2.8M282.5 500.8h-2.8M29.8 493.3h2.8M282.5 493.3h-2.8M29.8 485.8h2.8M282.5 485.8h-2.8M29.8 478.3h5.5M282.5 478.3h-5.5M29.8 470.8h2.8M282.5 470.8h-2.8M29.8 463.3h2.8M282.5 463.3h-2.8M29.8 455.8h2.8M282.5 455.8h-2.8M29.8 448.3h5.5M282.5 448.3h-5.5M29.8 440.8h2.8M282.5 440.8h-2.8M29.8 433.3h2.8M282.5 433.3h-2.8M29.8 425.8h2.8M282.5 425.8h-2.8M29.8 418.3h5.5M282.5 418.3h-5.5M29.8 410.8h2.8M282.5 410.8h-2.8" stroke="#4a4a4a" stroke-width="1" fill="none"/>
<rect x="29.8" y="410.2" width="252.7" height="165.5" stroke="#4a4a4a" stroke-width="1.1" fill="none"/>
<text x="96.3" y="586.3" class="tl" text-anchor="middle">4000</text>
<text x="185.65" y="586.3" class="tl" text-anchor="middle">5000</text>
<text x="275" y="586.3" class="tl" text-anchor="middle">6000</text>
<text x="25" y="571.5" class="tl" text-anchor="end">0</text>
<text x="25" y="541.5" class="tl" text-anchor="end">0.2</text>
<text x="25" y="511.5" class="tl" text-anchor="end">0.4</text>
<text x="25" y="481.5" class="tl" text-anchor="end">0.6</text>
<text x="25" y="451.5" class="tl" text-anchor="end">0.8</text>
<text x="25" y="421.5" class="tl" text-anchor="end">1</text>
<text x="122.8" y="598.6" class="xl" textLength="71" lengthAdjust="spacingAndGlyphs">rest-frame &#955;[&#197;]</text>
<text transform="translate(6.5 523.4) rotate(-90)" class="al" textLength="66" lengthAdjust="spacingAndGlyphs">arbitrary units</text>
<text x="65.3" y="433.4" class="an" textLength="43.4" lengthAdjust="spacingAndGlyphs">XID=2152</text>
<text x="118.7" y="433.4" class="an" textLength="36.3" lengthAdjust="spacingAndGlyphs">z=0.627</text>
<text x="160" y="433.4" class="an" textLength="31.8" lengthAdjust="spacingAndGlyphs">E(B&#8722;V)</text>
<text x="192.5" y="435.6" class="sub an" textLength="9" lengthAdjust="spacingAndGlyphs">qso</text>
<text x="202.7" y="433.4" class="an" textLength="24.8" lengthAdjust="spacingAndGlyphs">=0.75</text>
<text x="169.7" y="569.6" class="ll" textLength="4.2" lengthAdjust="spacingAndGlyphs">H</text>
<text x="174.4" y="571.4" class="lg" textLength="2.8" lengthAdjust="spacingAndGlyphs">&#946;</text>
<text x="178.7" y="569.9" class="lo" textLength="17.3" lengthAdjust="spacingAndGlyphs">[OIII]</text>
<clipPath id="cp6"><rect x="338.8" y="410.2" width="252.4" height="165.5"/></clipPath>
<g clip-path="url(#cp6)" fill="none" stroke-linejoin="round">
<path d="M339 511 340.5 510 340.5 493 341.4 492.56 342.3 493 342.3 509 343.15 510.59 344 510.7 344.9 511.2 345.8 513.23 346.7 514 347.57 513.77 348.43 514.46 349.3 515.3 350.7 514 351.7 509.8 352.7 504 353.5 514 354.33 514.2 355.17 515.56 356 516 356.94 515.79 357.88 515.65 358.82 515.57 359.76 514.95 360.7 515.3 361.7 517.18 362.7 518 363.5 517.6 364.3 518.09 365.1 518.01 365.9 518.67 366.7 519.3 367.62 518.09 368.54 517.82 369.46 515.93 370.38 514.44 371.3 514 372.24 514.81 373.18 517.19 374.12 516.9 375.06 518.99 376 520 376.88 519.95 377.75 520.56 378.62 520.19 379.5 520.6 380.3 520.79 381.1 520.36 381.9 520.49 382.7 520.78 383.5 520.15 384.3 519.9 385.23 518.3 386.15 517.15 387.07 517.54 388 515.8 389.2 510.93 390.4 506.1 391.2 508.44 392 512.48 392.8 514.6 393.66 515.24 394.51 515.99 395.37 516.75 396.23 516.31 397.09 516.94 397.94 518.29 398.8 518.2 399.61 517.52 400.42 518.42 401.23 517.26 402.03 518.1 402.84 518.02 403.65 518.32 404.46 518.05 405.27 517.41 406.07 516.82 406.88 516.64 407.69 517.15 408.5 517 409.31 517.32 410.12 516.91 410.93 518.55 411.73 518.21 412.54 518.82 413.35 518.35 414.16 518.69 414.97 518.62 415.77 519.45 416.58 519.63 417.39 520.18 418.2 520.6 419.1 520.7 420 521.73 420.9 522.13 421.8 521.28 422.7 521.93 423.6 521.87 424.5 522.96 425.4 523 426.3 521.66 427.2 518.32 428.1 517.13 429 514.6 430.07 509.45 431.13 504.15 432.2 500.1 433.17 505.36 434.13 509.51 435.1 514.6 436.3 512.77 437.5 512 438.7 495.2 440 517 441.1 516.9 442.2 517 442.8 465 443.4 517 444.7 519.4 445.51 519.37 446.32 520.06 447.13 520.51 447.94 520.87 448.76 521.54 449.57 521.46 450.38 521.55 451.19 521.94 452 523 452.81 522.47 453.62 523.23 454.43 523.08 455.23 523.89 456.04 523.51 456.85 523.93 457.66 524.47 458.47 523.1 459.27 523.13 460.08 523.42 460.89 523.92 461.7 524.2 462.56 524.08 463.42 524.11 464.28 523.24 465.14 523.98 466 523 466.88 522.87 467.75 524.86 468.62 524.52 469.5 526.25 470.38 525.57 471.25 527.72 472.12 528.05 473 528.3 473.85 529.29 474.69 528.84 475.54 528.41 476.38 529.88 477.23 529.24 478.08 528.88 478.92 529.92 479.77 529.96 480.62 530.13 481.46 529.82 482.31 529.98 483.15 530.92 484 531 484.85 530.92 485.69 530.4 486.54 530.9 487.38 531.36 488.23 531.34 489.08 530.95 489.92 530.83 490.77 530.78 491.62 530.56 492.46 530.52 493.31 530.91 494.15 530.37 495 531 495.81 531.28 496.62 531.17 497.44 530.93 498.25 529.91 499.06 530.37 499.87 530.4 500.68 529.77 501.49 531.09 502.31 530.67 503.12 530.18 503.93 530.42 504.74 529.53 505.55 529.5 506.36 529.89 507.18 530.16 507.99 529.92 508.8 529.6 509.62 528.95 510.44 530.06 511.26 530.67 512.08 530.55 512.9 530.98 513.72 531.21 514.54 530.14 515.36 530.39 516.18 530.94 517 531 517.81 531.89 518.62 531.05 519.44 532.09 520.25 532.08 521.06 531.67 521.87 531.98 522.68 532.64 523.49 532.49 524.31 531.84 525.12 532.85 525.93 531.94 526.74 532.34 527.55 533.42 528.36 533.37 529.18 532.64 529.99 532.74 530.8 533.2 531.61 533.42 532.41 533.82 533.22 533.6 534.02 534.04 534.83 533.74 535.64 533.93 536.44 533.61 537.25 533.26 538.05 533.4 538.86 533.54 539.66 533.63 540.47 534.16 541.28 533.29 542.08 533 542.89 534.1 543.69 533.4 544.5 533.8 545.33 533.39 546.16 532.63 546.99 533.49 547.82 532.32 548.65 532.07 549.48 532.61 550.31 531.85 551.14 531.2 551.97 531.9 552.8 531 553.62 529.76 554.44 528.58 555.26 528.44 556.08 527.06 556.9 525.5 557.8 522.23 558.7 517.77 559.6 514.5 560.6 505.4 561.6 495.3 562.4 480.3 563.2 465 564.3 432 565.1 410.5 566.5 410.5 567.3 437.5 568.7 478.8 569.65 493.08 570.6 506.3 571.53 511.59 572.47 517.75 573.4 522.8 574.45 525.87 575.5 528 576.5 528.82 577.5 530 578.5 533.75 579.5 537 580.55 538.95 581.6 540 582.55 539.79 583.5 538 584.65 540.67 585.8 542 586.9 541.46 588 540 588.93 540.09 589.87 541.51 590.8 542" stroke="#e01010" stroke-width="1.3"/>
<path d="M350 533 357.3 533 357.8 546 358.5 530 359.3 521.3 360 532 360.7 536 361.4 526 362 524 362.5 522.89 362.95 534.52 363.4 528.31 363.85 533.8 364.3 526.66 364.75 532.77 365.2 524.94 365.65 530.35 366.1 521.25 366.55 523.47 367 528.11 367.45 529.19 367.9 526.85 368.35 533.24 368.8 525.4 369.25 530.73 369.7 528.17 370.15 523.7 370.6 532.75 371.05 520.48 371.5 529.72 372.2 513.4 372.85 526.37 373.3 524.44 373.75 521.98 374.2 519.77 374.65 523.82 375.1 525.63 375.55 518.47 376 520.66 376.45 533.09 376.9 524.26 377.35 527.77 377.8 522.64 378.25 526.11 378.7 519.22 379.15 519.6 379.6 526.87 380.05 521.49 380.5 524.09 380.95 531.53 381.4 521.75 381.85 523.32 382.3 531.36 382.75 526.08 383.2 522.59 383.65 528.09 384.1 525.95 384.55 516.44 385 529.38 385.45 524.92 385.9 522.28 386.35 526.01 386.8 527.37 387.25 531.08 387.7 519.21 388.15 529.98 388.6 528.92 389.05 516.52 389.5 514.95 389.95 517.84 390.4 509.7 390.85 519.44 391.3 515.79 391.75 525.02 392.2 512.39 392.65 512.95 393.1 514.73 393.55 522.64 394 520.62 394.45 521.8 394.9 520.41 395.35 515.15 395.8 520.74 396.25 517.33 396.7 514.59 397.15 520.44 397.6 510.75 398.05 516.31 398.5 521.18 398.95 519.78 399.4 519.84 399.85 514.57 400.3 514.03 400.75 514.62 401.2 510.96 401.65 519.54 402.1 519.99 402.55 522.09 403 518.63 403.45 512.58 403.9 519.7 404.35 522.53 404.8 516.44 405.25 514.24 405.7 513.72 406.15 513.92 406.6 516.18 407.05 522.48 407.5 520.33 407.95 512.24 408.4 520.53 408.85 513.92 409.3 520.38 409.75 512.96 410.2 512.27 410.65 514.39 411.1 523.15 411.55 514.66 412 516.88 412.45 523.03 412.9 516.71 413.35 518.32 413.8 518.74 414.25 516.54 414.7 515.23 415.15 515.94 415.6 508.54 416.05 518.53 416.5 521.54 416.95 519.17 417.4 509.33 417.85 508.66 418.3 511.64 418.75 509.96 419.2 519.43 419.65 514.86 420.1 515.7 420.55 516.82 421 518.15 421.45 509.71 421.9 514.04 422.35 509.41 422.8 515.13 423.25 516.32 423.7 512.64 424.5 522 425.5 514 426.5 518 427.5 508 428.5 512 429.3 500 430 503 430.8 490 431.5 485 432.2 492 433 500 433.8 505 434.5 512 435.3 515 436 520 437 516 438 522 438.7 510 439.5 520 440.5 517 441.5 524 442.2 515 442.8 505 443.4 519 444 529.97 444.6 512.69 445.2 528.41 445.8 519.92 446.4 508.85 447 508.79 447.6 508.67 448.2 508.69 448.8 535.76 449.4 521.2 450 525 450.6 514.49 451.2 536.62 451.8 519.3 452.4 524.42 453 535.99 453.6 518.47 454.2 530.63 454.8 522.18 455.4 509.52 456 531.88 456.6 517.73 457.2 523.53 457.8 528.92 458.4 528.1 459 512.66 459.6 526.25 460.5 548.4 460.8 517.24 461.4 517.64 462 505.48 462.6 526.68 463.2 533.07 463.8 523.47 464.4 506.99 465 519.71 465.6 527.22 466.2 533.15 467 493 467.4 526.92 468 524.34 468.6 523.25 469.2 523.08 469.8 516.26 470.4 530.68 471 515.12 471.6 512.37 472.2 524.43 473 551 473.4 535.11 474 538.37 474.6 501.42 475.2 531.11 475.8 519.64 476.4 522.26 477 515.79 477.6 532.96 478.2 530.35 478.8 513.74 479.4 513.31 480 533.57 480.6 519.28 481.2 527.33 481.8 520.86 482.4 518.8 483 531.11 483.6 507.46 484 547.5 484.8 538.44 485.4 513.83 486 504.37 486.6 536.55 487.2 511.75 487.8 508.22 488.4 534.97 489 518.57 489.6 533.95 490.2 521.58 490.8 525.64 491.4 519.25 492 526.8 492.6 515.95 493.2 528.28 493.8 505.36 494.4 522.87 495 537.59 495.6 502.88 496.2 535.16 496.8 508.05 497.4 510.68 498 532.69 498.6 535.83 499.2 521.42 499.8 522.92 500.4 508.37 501 505.66 501.6 507.47 502.2 534.94 502.8 504.44 503.3 474.6 504 548 504.6 507.69 505.2 508.02 505.8 501.24 506.4 511.03 507 517.42 507.6 515.29 508.2 518.27 508.8 501.81 509.4 511.98 510 509.84 510.6 512.95 511.2 514.39 511.8 535.97 512.4 529.54 513 527.46 513.6 538.37 514 486 514.8 528.36 515.4 502.35 516 528.38 516.6 517.66 517.2 531.16 517.8 501.55 518.4 503.65 519 501.17 519.6 512.7 520.2 502.92 520.8 509.12 521.4 526.72 522 500.78 522.6 535.56 523.2 536.97 523.8 517.52 524.4 535.65 525 511.35 525.6 536.38 526.2 528.79 526.8 523.69 527.4 503.2 528 534.97 528.6 539.25 529.2 502.87 530 488 530.4 514.88 531 523.43 531.6 528.83 532.2 531.06 532.8 540.75 533.4 518.36 534 519.8 534.5 486.4 535.2 501.61 535.8 500.79 536.4 524.18 537 524.65 537.6 507.06 538.2 519.14 538.8 535.94 539.4 504.6 540 513.27 540.6 540.08 541 549 541.8 509.74 542.4 537.47 543 531.05 543.6 509.85 544.2 537.77 545 481 545.4 540.93 546 526.23 546.6 507.56 547.2 511.61 547.8 500.65 548.4 513.41 549 502.86 549.6 501.08 550 491 550.8 504.55 551.4 508.45 552 529.5 552.6 523.88 553.2 534.99 553.8 511.26 554.4 534.56 555 498.36 555.6 510.71 556.2 523.07 556.83 505.72 557.55 494.08 558.39 489.46 559.29 469.54 560.19 469.96 561.09 491.53 561.99 458.43 562.89 468.33 563.79 465.3 564.69 490.31 565.1 440 565.59 486.05 566.49 453.38 567.39 458.61 567.9 443 568.29 451.6 569.19 454.69 570 448 570.99 460.3 571.89 469.97 572.3 549 572.79 458.4 573.69 489.73 574.59 486.65 575 549 575.49 487.9 576.39 494.88 577.29 481.52 578.19 507.48 579 530 579.7 568.1" stroke="#000" stroke-width="1.2"/>
</g>
<path d="M347.6 575.7v-2.8M347.6 410.2v2.8M363.4 575.7v-5.5M363.4 410.2v5.5M379.2 575.7v-2.8M379.2 410.2v2.8M395 575.7v-2.8M395 410.2v2.8M410.8 575.7v-2.8M410.8 410.2v2.8M426.6 575.7v-2.8M426.6 410.2v2.8M442.4 575.7v-5.5M442.4 410.2v5.5M458.2 575.7v-2.8M458.2 410.2v2.8M474 575.7v-2.8M474 410.2v2.8M489.8 575.7v-2.8M489.8 410.2v2.8M505.6 575.7v-2.8M505.6 410.2v2.8M521.4 575.7v-5.5M521.4 410.2v5.5M537.2 575.7v-2.8M537.2 410.2v2.8M553 575.7v-2.8M553 410.2v2.8M568.8 575.7v-2.8M568.8 410.2v2.8M584.6 575.7v-2.8M584.6 410.2v2.8M338.8 568.3h5.5M591.2 568.3h-5.5M338.8 560.8h2.8M591.2 560.8h-2.8M338.8 553.3h2.8M591.2 553.3h-2.8M338.8 545.8h2.8M591.2 545.8h-2.8M338.8 538.3h5.5M591.2 538.3h-5.5M338.8 530.8h2.8M591.2 530.8h-2.8M338.8 523.3h2.8M591.2 523.3h-2.8M338.8 515.8h2.8M591.2 515.8h-2.8M338.8 508.3h5.5M591.2 508.3h-5.5M338.8 500.8h2.8M591.2 500.8h-2.8M338.8 493.3h2.8M591.2 493.3h-2.8M338.8 485.8h2.8M591.2 485.8h-2.8M338.8 478.3h5.5M591.2 478.3h-5.5M338.8 470.8h2.8M591.2 470.8h-2.8M338.8 463.3h2.8M591.2 463.3h-2.8M338.8 455.8h2.8M591.2 455.8h-2.8M338.8 448.3h5.5M591.2 448.3h-5.5M338.8 440.8h2.8M591.2 440.8h-2.8M338.8 433.3h2.8M591.2 433.3h-2.8M338.8 425.8h2.8M591.2 425.8h-2.8M338.8 418.3h5.5M591.2 418.3h-5.5M338.8 410.8h2.8M591.2 410.8h-2.8" stroke="#4a4a4a" stroke-width="1" fill="none"/>
<rect x="338.8" y="410.2" width="252.4" height="165.5" stroke="#4a4a4a" stroke-width="1.1" fill="none"/>
<text x="363.4" y="586.3" class="tl" text-anchor="middle">4000</text>
<text x="442.4" y="586.3" class="tl" text-anchor="middle">5000</text>
<text x="521.4" y="586.3" class="tl" text-anchor="middle">6000</text>
<text x="334" y="571.5" class="tl" text-anchor="end">0</text>
<text x="334" y="541.5" class="tl" text-anchor="end">0.2</text>
<text x="334" y="511.5" class="tl" text-anchor="end">0.4</text>
<text x="334" y="481.5" class="tl" text-anchor="end">0.6</text>
<text x="334" y="451.5" class="tl" text-anchor="end">0.8</text>
<text x="334" y="421.5" class="tl" text-anchor="end">1</text>
<text x="431.8" y="598.6" class="xl" textLength="71" lengthAdjust="spacingAndGlyphs">rest-frame &#955;[&#197;]</text>
<text transform="translate(316 523.4) rotate(-90)" class="al" textLength="66" lengthAdjust="spacingAndGlyphs">arbitrary units</text>
<text x="352.3" y="433.6" class="an" textLength="49" lengthAdjust="spacingAndGlyphs">XID=54513</text>
<text x="410.7" y="433.6" class="an" textLength="36.3" lengthAdjust="spacingAndGlyphs">z=0.437</text>
<text x="453" y="433.6" class="an" textLength="31.8" lengthAdjust="spacingAndGlyphs">E(B&#8722;V)</text>
<text x="485.5" y="435.8" class="sub an" textLength="9" lengthAdjust="spacingAndGlyphs">qso</text>
<text x="495.7" y="433.6" class="an" textLength="10.1" lengthAdjust="spacingAndGlyphs">=1</text>
<text x="386.7" y="569.9" class="ll" textLength="4" lengthAdjust="spacingAndGlyphs">H</text>
<text x="391.2" y="571.7" class="lg" textLength="2.8" lengthAdjust="spacingAndGlyphs">&#947;</text>
<text x="428" y="569.9" class="ll" textLength="4.2" lengthAdjust="spacingAndGlyphs">H</text>
<text x="432.7" y="571.7" class="lg" textLength="2.8" lengthAdjust="spacingAndGlyphs">&#946;</text>
<text x="434.4" y="570.2" class="lo" textLength="18.7" lengthAdjust="spacingAndGlyphs">[OIII]</text>
<text x="562" y="569.9" class="ll" textLength="4" lengthAdjust="spacingAndGlyphs">H</text>
<text x="566.5" y="571.7" class="lg" textLength="2.8" lengthAdjust="spacingAndGlyphs">&#945;</text>
</svg></body></html>
